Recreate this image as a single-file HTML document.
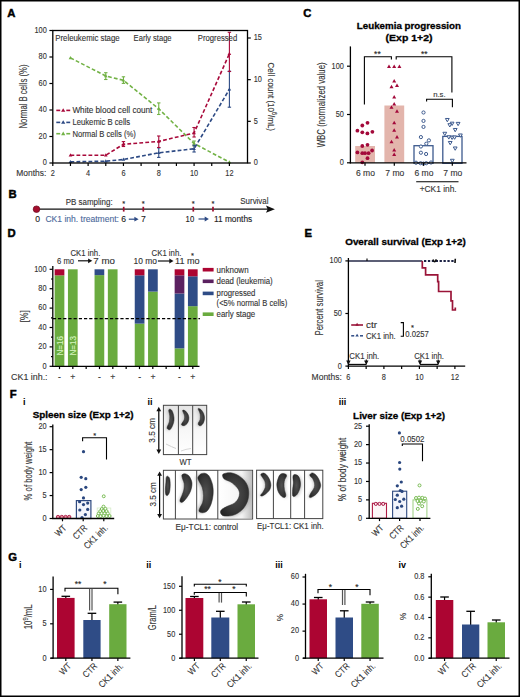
<!DOCTYPE html>
<html><head><meta charset="utf-8"><style>
html,body{margin:0;padding:0;background:#fff;}
body{width:520px;height:697px;overflow:hidden;}
svg{display:block;font-family:"Liberation Sans",sans-serif;}
text{stroke-width:0.12px;}
text[font-weight="bold"]{stroke-width:0.3px;}
</style></head><body>
<svg width="520" height="697" viewBox="0 0 520 697">
<rect width="520" height="697" fill="#fff"/>
<rect x="0.75" y="0.75" width="518.5" height="695.5" fill="none" stroke="#000" stroke-width="1.5"/>
<text x="7.2" y="16.9" font-size="11.3" fill="#000" stroke="#000" style="stroke-width:0.45px" font-weight="bold">A</text>
<path d="M70.46 57.9 L105.78 76 L123.44 80.3 L158.76 108.8 L194.08 143.5 L229.4 162.2" stroke="#72b245" stroke-width="1.6" fill="none" stroke-dasharray="3.8 2.2"/>
<line x1="105.78" y1="72.7" x2="105.78" y2="79.5" stroke="#72b245" stroke-width="1.1"/>
<line x1="104.08" y1="72.7" x2="107.48" y2="72.7" stroke="#72b245" stroke-width="1.1"/>
<line x1="104.08" y1="79.5" x2="107.48" y2="79.5" stroke="#72b245" stroke-width="1.1"/>
<line x1="123.44" y1="76.8" x2="123.44" y2="83.4" stroke="#72b245" stroke-width="1.1"/>
<line x1="121.74" y1="76.8" x2="125.14" y2="76.8" stroke="#72b245" stroke-width="1.1"/>
<line x1="121.74" y1="83.4" x2="125.14" y2="83.4" stroke="#72b245" stroke-width="1.1"/>
<line x1="158.76" y1="102.9" x2="158.76" y2="114.5" stroke="#72b245" stroke-width="1.1"/>
<line x1="157.06" y1="102.9" x2="160.46" y2="102.9" stroke="#72b245" stroke-width="1.1"/>
<line x1="157.06" y1="114.5" x2="160.46" y2="114.5" stroke="#72b245" stroke-width="1.1"/>
<line x1="194.08" y1="141" x2="194.08" y2="146" stroke="#72b245" stroke-width="1.1"/>
<line x1="192.38" y1="141" x2="195.78" y2="141" stroke="#72b245" stroke-width="1.1"/>
<line x1="192.38" y1="146" x2="195.78" y2="146" stroke="#72b245" stroke-width="1.1"/>
<polygon points="70.46,56.02 72.26,59.15 68.66,59.15" fill="#72b245" stroke="none" stroke-width="0"/>
<polygon points="105.78,74.12 107.58,77.25 103.98,77.25" fill="#72b245" stroke="none" stroke-width="0"/>
<polygon points="123.44,78.42 125.24,81.55 121.64,81.55" fill="#72b245" stroke="none" stroke-width="0"/>
<polygon points="158.76,106.92 160.56,110.05 156.96,110.05" fill="#72b245" stroke="none" stroke-width="0"/>
<polygon points="194.08,141.62 195.88,144.75 192.28,144.75" fill="#72b245" stroke="none" stroke-width="0"/>
<polygon points="229.4,160.32 231.2,163.45 227.6,163.45" fill="#72b245" stroke="none" stroke-width="0"/>
<path d="M70.46 161.8 L105.78 161.2 L123.44 159.5 L158.76 152.8 L194.08 148.8 L229.4 89.3" stroke="#2d4a84" stroke-width="1.6" fill="none" stroke-dasharray="3.8 2.2"/>
<line x1="158.76" y1="147.8" x2="158.76" y2="157.4" stroke="#2d4a84" stroke-width="1.1"/>
<line x1="157.06" y1="147.8" x2="160.46" y2="147.8" stroke="#2d4a84" stroke-width="1.1"/>
<line x1="157.06" y1="157.4" x2="160.46" y2="157.4" stroke="#2d4a84" stroke-width="1.1"/>
<line x1="194.08" y1="145.3" x2="194.08" y2="152" stroke="#2d4a84" stroke-width="1.1"/>
<line x1="192.38" y1="145.3" x2="195.78" y2="145.3" stroke="#2d4a84" stroke-width="1.1"/>
<line x1="192.38" y1="152" x2="195.78" y2="152" stroke="#2d4a84" stroke-width="1.1"/>
<line x1="229.4" y1="71.2" x2="229.4" y2="107.2" stroke="#2d4a84" stroke-width="1.1"/>
<line x1="227.7" y1="71.2" x2="231.1" y2="71.2" stroke="#2d4a84" stroke-width="1.1"/>
<line x1="227.7" y1="107.2" x2="231.1" y2="107.2" stroke="#2d4a84" stroke-width="1.1"/>
<polygon points="70.46,159.92 72.26,163.05 68.66,163.05" fill="#2d4a84" stroke="none" stroke-width="0"/>
<polygon points="105.78,159.32 107.58,162.45 103.98,162.45" fill="#2d4a84" stroke="none" stroke-width="0"/>
<polygon points="123.44,157.62 125.24,160.75 121.64,160.75" fill="#2d4a84" stroke="none" stroke-width="0"/>
<polygon points="158.76,150.92 160.56,154.05 156.96,154.05" fill="#2d4a84" stroke="none" stroke-width="0"/>
<polygon points="194.08,146.92 195.88,150.05 192.28,150.05" fill="#2d4a84" stroke="none" stroke-width="0"/>
<polygon points="229.4,87.42 231.2,90.55 227.6,90.55" fill="#2d4a84" stroke="none" stroke-width="0"/>
<path d="M70.46 155.2 L105.78 155.2 L123.44 144.3 L158.76 141.4 L194.08 133 L229.4 53.7" stroke="#a8093a" stroke-width="1.6" fill="none" stroke-dasharray="3.8 2.2"/>
<line x1="123.44" y1="141.6" x2="123.44" y2="146.5" stroke="#a8093a" stroke-width="1.1"/>
<line x1="121.74" y1="141.6" x2="125.14" y2="141.6" stroke="#a8093a" stroke-width="1.1"/>
<line x1="121.74" y1="146.5" x2="125.14" y2="146.5" stroke="#a8093a" stroke-width="1.1"/>
<line x1="158.76" y1="136" x2="158.76" y2="147.5" stroke="#a8093a" stroke-width="1.1"/>
<line x1="157.06" y1="136" x2="160.46" y2="136" stroke="#a8093a" stroke-width="1.1"/>
<line x1="157.06" y1="147.5" x2="160.46" y2="147.5" stroke="#a8093a" stroke-width="1.1"/>
<line x1="194.08" y1="127.5" x2="194.08" y2="137" stroke="#a8093a" stroke-width="1.1"/>
<line x1="192.38" y1="127.5" x2="195.78" y2="127.5" stroke="#a8093a" stroke-width="1.1"/>
<line x1="192.38" y1="137" x2="195.78" y2="137" stroke="#a8093a" stroke-width="1.1"/>
<line x1="229.4" y1="32.3" x2="229.4" y2="71.5" stroke="#a8093a" stroke-width="1.1"/>
<line x1="227.7" y1="32.3" x2="231.1" y2="32.3" stroke="#a8093a" stroke-width="1.1"/>
<line x1="227.7" y1="71.5" x2="231.1" y2="71.5" stroke="#a8093a" stroke-width="1.1"/>
<polygon points="70.46,153.32 72.26,156.45 68.66,156.45" fill="#a8093a" stroke="none" stroke-width="0"/>
<polygon points="105.78,153.32 107.58,156.45 103.98,156.45" fill="#a8093a" stroke="none" stroke-width="0"/>
<polygon points="123.44,142.42 125.24,145.55 121.64,145.55" fill="#a8093a" stroke="none" stroke-width="0"/>
<polygon points="158.76,139.52 160.56,142.65 156.96,142.65" fill="#a8093a" stroke="none" stroke-width="0"/>
<polygon points="194.08,131.12 195.88,134.25 192.28,134.25" fill="#a8093a" stroke="none" stroke-width="0"/>
<polygon points="229.4,51.82 231.2,54.95 227.6,54.95" fill="#a8093a" stroke="none" stroke-width="0"/>
<rect x="52.8" y="30.5" width="194.7" height="132.5" fill="none" stroke="#000" stroke-width="1.3"/>
<line x1="49.4" y1="163" x2="52.8" y2="163" stroke="#000" stroke-width="1.2"/>
<text x="46.8" y="165.35" font-size="8.6" text-anchor="end" fill="#333" stroke="#333" textLength="4.1" lengthAdjust="spacingAndGlyphs">0</text>
<line x1="49.4" y1="136.5" x2="52.8" y2="136.5" stroke="#000" stroke-width="1.2"/>
<text x="46.8" y="138.85" font-size="8.6" text-anchor="end" fill="#333" stroke="#333" textLength="8.2" lengthAdjust="spacingAndGlyphs">20</text>
<line x1="49.4" y1="110" x2="52.8" y2="110" stroke="#000" stroke-width="1.2"/>
<text x="46.8" y="112.35" font-size="8.6" text-anchor="end" fill="#333" stroke="#333" textLength="8.2" lengthAdjust="spacingAndGlyphs">40</text>
<line x1="49.4" y1="83.5" x2="52.8" y2="83.5" stroke="#000" stroke-width="1.2"/>
<text x="46.8" y="85.85" font-size="8.6" text-anchor="end" fill="#333" stroke="#333" textLength="8.2" lengthAdjust="spacingAndGlyphs">60</text>
<line x1="49.4" y1="57" x2="52.8" y2="57" stroke="#000" stroke-width="1.2"/>
<text x="46.8" y="59.35" font-size="8.6" text-anchor="end" fill="#333" stroke="#333" textLength="8.2" lengthAdjust="spacingAndGlyphs">80</text>
<line x1="49.4" y1="30.5" x2="52.8" y2="30.5" stroke="#000" stroke-width="1.2"/>
<text x="46.8" y="32.85" font-size="8.6" text-anchor="end" fill="#333" stroke="#333" textLength="12.3" lengthAdjust="spacingAndGlyphs">100</text>
<line x1="247.5" y1="163" x2="250.8" y2="163" stroke="#000" stroke-width="1.2"/>
<text x="253.7" y="165.35" font-size="8.6" text-anchor="start" fill="#333" stroke="#333" textLength="4.1" lengthAdjust="spacingAndGlyphs">0</text>
<line x1="247.5" y1="121.33" x2="250.8" y2="121.33" stroke="#000" stroke-width="1.2"/>
<text x="253.7" y="123.68" font-size="8.6" text-anchor="start" fill="#333" stroke="#333" textLength="4.1" lengthAdjust="spacingAndGlyphs">5</text>
<line x1="247.5" y1="79.67" x2="250.8" y2="79.67" stroke="#000" stroke-width="1.2"/>
<text x="253.7" y="82.02" font-size="8.6" text-anchor="start" fill="#333" stroke="#333" textLength="8.2" lengthAdjust="spacingAndGlyphs">10</text>
<line x1="247.5" y1="38" x2="250.8" y2="38" stroke="#000" stroke-width="1.2"/>
<text x="253.7" y="40.35" font-size="8.6" text-anchor="start" fill="#333" stroke="#333" textLength="8.2" lengthAdjust="spacingAndGlyphs">15</text>
<line x1="52.8" y1="163" x2="52.8" y2="166" stroke="#000" stroke-width="1.2"/>
<text x="52.8" y="176.35" font-size="8.6" text-anchor="middle" fill="#333" stroke="#333" textLength="4.1" lengthAdjust="spacingAndGlyphs">2</text>
<line x1="70.46" y1="163" x2="70.46" y2="166" stroke="#000" stroke-width="1.2"/>
<line x1="88.12" y1="163" x2="88.12" y2="166" stroke="#000" stroke-width="1.2"/>
<text x="88.12" y="176.35" font-size="8.6" text-anchor="middle" fill="#333" stroke="#333" textLength="4.1" lengthAdjust="spacingAndGlyphs">4</text>
<line x1="105.78" y1="163" x2="105.78" y2="166" stroke="#000" stroke-width="1.2"/>
<line x1="123.44" y1="163" x2="123.44" y2="166" stroke="#000" stroke-width="1.2"/>
<text x="123.44" y="176.35" font-size="8.6" text-anchor="middle" fill="#333" stroke="#333" textLength="4.1" lengthAdjust="spacingAndGlyphs">6</text>
<line x1="141.1" y1="163" x2="141.1" y2="166" stroke="#000" stroke-width="1.2"/>
<line x1="158.76" y1="163" x2="158.76" y2="166" stroke="#000" stroke-width="1.2"/>
<text x="158.76" y="176.35" font-size="8.6" text-anchor="middle" fill="#333" stroke="#333" textLength="4.1" lengthAdjust="spacingAndGlyphs">8</text>
<line x1="176.42" y1="163" x2="176.42" y2="166" stroke="#000" stroke-width="1.2"/>
<line x1="194.08" y1="163" x2="194.08" y2="166" stroke="#000" stroke-width="1.2"/>
<text x="194.08" y="176.35" font-size="8.6" text-anchor="middle" fill="#333" stroke="#333" textLength="8.2" lengthAdjust="spacingAndGlyphs">10</text>
<line x1="211.74" y1="163" x2="211.74" y2="166" stroke="#000" stroke-width="1.2"/>
<line x1="229.4" y1="163" x2="229.4" y2="166" stroke="#000" stroke-width="1.2"/>
<text x="229.4" y="176.35" font-size="8.6" text-anchor="middle" fill="#333" stroke="#333" textLength="8.2" lengthAdjust="spacingAndGlyphs">12</text>
<text x="46.3" y="175.6" font-size="8.7" text-anchor="end" fill="#333" stroke="#333" textLength="30" lengthAdjust="spacingAndGlyphs">Months:</text>
<text transform="translate(23.4 96.5) rotate(-90)" x="0" y="3.82" font-size="10.6" text-anchor="middle" fill="#333" stroke="#333" textLength="64" lengthAdjust="spacingAndGlyphs">Normal B cells (%)</text>
<text transform="translate(271.8 96.8) rotate(90)" x="0" y="3.5" font-size="9.8" text-anchor="middle" fill="#333" stroke="#333" textLength="68.5" lengthAdjust="spacingAndGlyphs">Cell count (10<tspan font-size="6.5" dy="-3.5">6</tspan><tspan dy="3.5">/mL)</tspan></text>
<text x="55.2" y="41.3" font-size="8.2" text-anchor="start" fill="#333" stroke="#333" textLength="64.5" lengthAdjust="spacingAndGlyphs">Preleukemic stage</text>
<text x="133.6" y="41.3" font-size="8.2" text-anchor="start" fill="#333" stroke="#333" textLength="38" lengthAdjust="spacingAndGlyphs">Early stage</text>
<text x="197.8" y="41.3" font-size="8.2" text-anchor="start" fill="#333" stroke="#333" textLength="39.4" lengthAdjust="spacingAndGlyphs">Progressed</text>
<line x1="56.3" y1="110.4" x2="60.2" y2="110.4" stroke="#a8093a" stroke-width="1.6"/>
<line x1="66.3" y1="110.4" x2="70.2" y2="110.4" stroke="#a8093a" stroke-width="1.6"/>
<polygon points="63.2,108.21 65.3,111.86 61.1,111.86" fill="#a8093a" stroke="none" stroke-width="0"/>
<text x="72.4" y="113.3" font-size="8.3" text-anchor="start" fill="#333" stroke="#333" textLength="80" lengthAdjust="spacingAndGlyphs">White blood cell count</text>
<line x1="56.3" y1="122.4" x2="60.2" y2="122.4" stroke="#2d4a84" stroke-width="1.6"/>
<line x1="66.3" y1="122.4" x2="70.2" y2="122.4" stroke="#2d4a84" stroke-width="1.6"/>
<polygon points="63.2,120.21 65.3,123.86 61.1,123.86" fill="#2d4a84" stroke="none" stroke-width="0"/>
<text x="72.4" y="125.3" font-size="8.3" text-anchor="start" fill="#333" stroke="#333" textLength="57.8" lengthAdjust="spacingAndGlyphs">Leukemic B cells</text>
<line x1="56.3" y1="133.7" x2="60.2" y2="133.7" stroke="#72b245" stroke-width="1.6"/>
<line x1="66.3" y1="133.7" x2="70.2" y2="133.7" stroke="#72b245" stroke-width="1.6"/>
<polygon points="63.2,131.51 65.3,135.16 61.1,135.16" fill="#72b245" stroke="none" stroke-width="0"/>
<text x="72.4" y="136.6" font-size="8.3" text-anchor="start" fill="#333" stroke="#333" textLength="63.5" lengthAdjust="spacingAndGlyphs">Normal B cells (%)</text>
<text x="8.4" y="198.1" font-size="11.3" fill="#000" stroke="#000" style="stroke-width:0.45px" font-weight="bold">B</text>
<line x1="39" y1="209.2" x2="268" y2="209.2" stroke="#111" stroke-width="1.2"/>
<polygon points="266,205.6 274.9,209.2 266,212.8 267.6,209.2" fill="#111"/>
<circle cx="36.5" cy="209.2" r="3.3" fill="#a50d2d" stroke="#6a0a1e" stroke-width="0.7"/>
<line x1="123.7" y1="206.8" x2="123.7" y2="211.6" stroke="#a01030" stroke-width="1.7"/>
<text x="123.7" y="206.4" font-size="7.5" text-anchor="middle" fill="#222" stroke="#222">*</text>
<line x1="143.3" y1="206.8" x2="143.3" y2="211.6" stroke="#a01030" stroke-width="1.7"/>
<text x="143.3" y="206.4" font-size="7.5" text-anchor="middle" fill="#222" stroke="#222">*</text>
<line x1="193.3" y1="206.8" x2="193.3" y2="211.6" stroke="#a01030" stroke-width="1.7"/>
<text x="193.3" y="206.4" font-size="7.5" text-anchor="middle" fill="#222" stroke="#222">*</text>
<line x1="213" y1="206.8" x2="213" y2="211.6" stroke="#a01030" stroke-width="1.7"/>
<text x="213" y="206.4" font-size="7.5" text-anchor="middle" fill="#222" stroke="#222">*</text>
<text x="65.7" y="204.6" font-size="8.3" text-anchor="start" fill="#333" stroke="#333" textLength="47" lengthAdjust="spacingAndGlyphs">PB sampling:</text>
<text x="240.3" y="204" font-size="8.3" text-anchor="start" fill="#333" stroke="#333" textLength="28.2" lengthAdjust="spacingAndGlyphs">Survival</text>
<text x="37.6" y="222.3" font-size="8.6" text-anchor="middle" fill="#222" stroke="#222">0</text>
<text x="45.4" y="222.3" font-size="8.3" text-anchor="start" fill="#4c6a9c" stroke="#4c6a9c" textLength="73.6" lengthAdjust="spacingAndGlyphs">CK1 inh. treatment:</text>
<text x="123.6" y="222.3" font-size="8.6" text-anchor="middle" fill="#222" stroke="#222">6</text>
<text x="143.4" y="222.3" font-size="8.6" text-anchor="middle" fill="#222" stroke="#222">7</text>
<text x="185.6" y="222.1" font-size="8.6" text-anchor="start" fill="#222" stroke="#222" textLength="8.6" lengthAdjust="spacingAndGlyphs">10</text>
<text x="214" y="222.1" font-size="8.3" text-anchor="start" fill="#222" stroke="#222" textLength="38.2" lengthAdjust="spacingAndGlyphs">11 months</text>
<line x1="128.8" y1="219.2" x2="135.6" y2="219.2" stroke="#2d4a84" stroke-width="1.2"/>
<polygon points="134.4,216.8 138.6,219.2 134.4,221.6" fill="#2d4a84"/>
<line x1="198.5" y1="219" x2="205.9" y2="219" stroke="#2d4a84" stroke-width="1.2"/>
<polygon points="204.7,216.6 208.9,219 204.7,221.4" fill="#2d4a84"/>
<text x="303.2" y="16.7" font-size="11.3" fill="#000" stroke="#000" style="stroke-width:0.45px" font-weight="bold">C</text>
<text x="408.9" y="29.4" font-size="9.7" text-anchor="middle" fill="#000" stroke="#000" font-weight="bold" textLength="104.2" lengthAdjust="spacingAndGlyphs">Leukemia progression</text>
<text x="409.1" y="41.2" font-size="9.7" text-anchor="middle" fill="#000" stroke="#000" font-weight="bold" textLength="47" lengthAdjust="spacingAndGlyphs">(Exp 1+2)</text>
<rect x="355.2" y="146" width="19.8" height="16.8" fill="#e3b5ac" stroke="none" stroke-width="0"/>
<rect x="384.4" y="105.5" width="19.8" height="57.3" fill="#e3b5ac" stroke="none" stroke-width="0"/>
<rect x="414" y="145.7" width="19" height="17.6" fill="none" stroke="#3d5a8e" stroke-width="1.3"/>
<rect x="442.8" y="136.4" width="19.2" height="26.9" fill="none" stroke="#3d5a8e" stroke-width="1.3"/>
<circle cx="367.5" cy="122.8" r="1.9" fill="#a3093a" stroke="none" stroke-width="0"/>
<circle cx="362.3" cy="125.5" r="1.9" fill="#a3093a" stroke="none" stroke-width="0"/>
<circle cx="357.4" cy="130.7" r="1.9" fill="#a3093a" stroke="none" stroke-width="0"/>
<circle cx="362.3" cy="132.3" r="1.9" fill="#a3093a" stroke="none" stroke-width="0"/>
<circle cx="367.4" cy="133.4" r="1.9" fill="#a3093a" stroke="none" stroke-width="0"/>
<circle cx="372.4" cy="131.8" r="1.9" fill="#a3093a" stroke="none" stroke-width="0"/>
<circle cx="362.3" cy="146" r="1.9" fill="#a3093a" stroke="none" stroke-width="0"/>
<circle cx="367.5" cy="144.8" r="1.9" fill="#a3093a" stroke="none" stroke-width="0"/>
<circle cx="372.1" cy="150.5" r="1.9" fill="#a3093a" stroke="none" stroke-width="0"/>
<circle cx="357.4" cy="152.4" r="1.9" fill="#a3093a" stroke="none" stroke-width="0"/>
<circle cx="362.3" cy="153.2" r="1.9" fill="#a3093a" stroke="none" stroke-width="0"/>
<circle cx="365" cy="153.2" r="1.9" fill="#a3093a" stroke="none" stroke-width="0"/>
<circle cx="368.6" cy="153.2" r="1.9" fill="#a3093a" stroke="none" stroke-width="0"/>
<circle cx="367.5" cy="158.2" r="1.9" fill="#a3093a" stroke="none" stroke-width="0"/>
<circle cx="362.3" cy="162.3" r="1.9" fill="#a3093a" stroke="none" stroke-width="0"/>
<polygon points="389,64.51 391,67.99 387,67.99" fill="#a3093a" stroke="none" stroke-width="0"/>
<polygon points="394.2,64.51 396.2,67.99 392.2,67.99" fill="#a3093a" stroke="none" stroke-width="0"/>
<polygon points="399.4,64.51 401.4,67.99 397.4,67.99" fill="#a3093a" stroke="none" stroke-width="0"/>
<polygon points="394.2,78.91 396.2,82.39 392.2,82.39" fill="#a3093a" stroke="none" stroke-width="0"/>
<polygon points="391.5,84.71 393.5,88.19 389.5,88.19" fill="#a3093a" stroke="none" stroke-width="0"/>
<polygon points="397,83.51 399,86.99 395,86.99" fill="#a3093a" stroke="none" stroke-width="0"/>
<polygon points="394.2,95.01 396.2,98.49 392.2,98.49" fill="#a3093a" stroke="none" stroke-width="0"/>
<polygon points="394.2,102.11 396.2,105.59 392.2,105.59" fill="#a3093a" stroke="none" stroke-width="0"/>
<polygon points="391.5,105.31 393.5,108.79 389.5,108.79" fill="#a3093a" stroke="none" stroke-width="0"/>
<polygon points="397,109.21 399,112.69 395,112.69" fill="#a3093a" stroke="none" stroke-width="0"/>
<polygon points="394.2,120.71 396.2,124.19 392.2,124.19" fill="#a3093a" stroke="none" stroke-width="0"/>
<polygon points="394.2,128.21 396.2,131.69 392.2,131.69" fill="#a3093a" stroke="none" stroke-width="0"/>
<polygon points="397,134.91 399,138.39 395,138.39" fill="#a3093a" stroke="none" stroke-width="0"/>
<polygon points="391.5,139.71 393.5,143.19 389.5,143.19" fill="#a3093a" stroke="none" stroke-width="0"/>
<polygon points="394.2,147.91 396.2,151.39 392.2,151.39" fill="#a3093a" stroke="none" stroke-width="0"/>
<polygon points="394.2,152.61 396.2,156.09 392.2,156.09" fill="#a3093a" stroke="none" stroke-width="0"/>
<circle cx="423.5" cy="112.5" r="1.6" fill="white" stroke="#3d5a8e" stroke-width="1"/>
<circle cx="423.5" cy="120.9" r="1.6" fill="white" stroke="#3d5a8e" stroke-width="1"/>
<circle cx="423.5" cy="126.9" r="1.6" fill="white" stroke="#3d5a8e" stroke-width="1"/>
<circle cx="420.9" cy="137.1" r="1.6" fill="white" stroke="#3d5a8e" stroke-width="1"/>
<circle cx="428.9" cy="140.4" r="1.6" fill="white" stroke="#3d5a8e" stroke-width="1"/>
<circle cx="426.3" cy="143.7" r="1.6" fill="white" stroke="#3d5a8e" stroke-width="1"/>
<circle cx="420.9" cy="146.5" r="1.6" fill="white" stroke="#3d5a8e" stroke-width="1"/>
<circle cx="420.9" cy="152.7" r="1.6" fill="white" stroke="#3d5a8e" stroke-width="1"/>
<circle cx="426.1" cy="154" r="1.6" fill="white" stroke="#3d5a8e" stroke-width="1"/>
<circle cx="416" cy="162.7" r="1.6" fill="white" stroke="#3d5a8e" stroke-width="1"/>
<circle cx="420.6" cy="163.2" r="1.6" fill="white" stroke="#3d5a8e" stroke-width="1"/>
<circle cx="423.5" cy="163.6" r="1.6" fill="white" stroke="#3d5a8e" stroke-width="1"/>
<circle cx="426.3" cy="163.2" r="1.6" fill="white" stroke="#3d5a8e" stroke-width="1"/>
<circle cx="431" cy="162.5" r="1.6" fill="white" stroke="#3d5a8e" stroke-width="1"/>
<polygon points="447.3,121.78 449.2,118.48 445.4,118.48" fill="white" stroke="#3d5a8e" stroke-width="1"/>
<polygon points="452.1,125.48 454,122.18 450.2,122.18" fill="white" stroke="#3d5a8e" stroke-width="1"/>
<polygon points="449.8,126.98 451.7,123.68 447.9,123.68" fill="white" stroke="#3d5a8e" stroke-width="1"/>
<polygon points="458.1,125.68 460,122.38 456.2,122.38" fill="white" stroke="#3d5a8e" stroke-width="1"/>
<polygon points="455.2,131.78 457.1,128.48 453.3,128.48" fill="white" stroke="#3d5a8e" stroke-width="1"/>
<polygon points="444.8,135.58 446.7,132.28 442.9,132.28" fill="white" stroke="#3d5a8e" stroke-width="1"/>
<polygon points="448.8,139.08 450.7,135.78 446.9,135.78" fill="white" stroke="#3d5a8e" stroke-width="1"/>
<polygon points="452.1,139.48 454,136.18 450.2,136.18" fill="white" stroke="#3d5a8e" stroke-width="1"/>
<polygon points="454.6,139.28 456.5,135.98 452.7,135.98" fill="white" stroke="#3d5a8e" stroke-width="1"/>
<polygon points="460.4,137.28 462.3,133.98 458.5,133.98" fill="white" stroke="#3d5a8e" stroke-width="1"/>
<polygon points="450.2,144.78 452.1,141.48 448.3,141.48" fill="white" stroke="#3d5a8e" stroke-width="1"/>
<polygon points="455.2,150.28 457.1,146.98 453.3,146.98" fill="white" stroke="#3d5a8e" stroke-width="1"/>
<polygon points="452.3,162.58 454.2,159.28 450.4,159.28" fill="white" stroke="#3d5a8e" stroke-width="1"/>
<line x1="350.4" y1="46.4" x2="350.4" y2="163.4" stroke="#000" stroke-width="1.3"/>
<line x1="349.8" y1="162.8" x2="466.5" y2="162.8" stroke="#000" stroke-width="1.3"/>
<line x1="347" y1="162.8" x2="350.4" y2="162.8" stroke="#000" stroke-width="1.2"/>
<text x="343.9" y="165.15" font-size="8.6" text-anchor="end" fill="#333" stroke="#333" textLength="4.1" lengthAdjust="spacingAndGlyphs">0</text>
<line x1="347" y1="114.5" x2="350.4" y2="114.5" stroke="#000" stroke-width="1.2"/>
<text x="343.9" y="116.85" font-size="8.6" text-anchor="end" fill="#333" stroke="#333" textLength="8.2" lengthAdjust="spacingAndGlyphs">50</text>
<line x1="347" y1="66.2" x2="350.4" y2="66.2" stroke="#000" stroke-width="1.2"/>
<text x="343.9" y="68.55" font-size="8.6" text-anchor="end" fill="#333" stroke="#333" textLength="12.3" lengthAdjust="spacingAndGlyphs">100</text>
<line x1="365" y1="162.8" x2="365" y2="165.8" stroke="#000" stroke-width="1.2"/>
<line x1="394.3" y1="162.8" x2="394.3" y2="165.8" stroke="#000" stroke-width="1.2"/>
<line x1="423.5" y1="162.8" x2="423.5" y2="165.8" stroke="#000" stroke-width="1.2"/>
<line x1="452.3" y1="162.8" x2="452.3" y2="165.8" stroke="#000" stroke-width="1.2"/>
<text x="365.5" y="176.3" font-size="8.5" text-anchor="middle" fill="#333" stroke="#333" textLength="19" lengthAdjust="spacingAndGlyphs">6 mo</text>
<text x="394.8" y="176.3" font-size="8.5" text-anchor="middle" fill="#333" stroke="#333" textLength="19" lengthAdjust="spacingAndGlyphs">7 mo</text>
<text x="424" y="176.3" font-size="8.5" text-anchor="middle" fill="#333" stroke="#333" textLength="19" lengthAdjust="spacingAndGlyphs">6 mo</text>
<text x="452.8" y="176.3" font-size="8.5" text-anchor="middle" fill="#333" stroke="#333" textLength="19" lengthAdjust="spacingAndGlyphs">7 mo</text>
<line x1="416.2" y1="181.8" x2="458.5" y2="181.8" stroke="#000" stroke-width="1.1"/>
<text x="438.2" y="192" font-size="8.5" text-anchor="middle" fill="#333" stroke="#333" textLength="37" lengthAdjust="spacingAndGlyphs">+CK1 inh.</text>
<text transform="translate(321.2 104.8) rotate(-90)" x="0" y="3.82" font-size="10.6" text-anchor="middle" fill="#333" stroke="#333" textLength="85" lengthAdjust="spacingAndGlyphs">WBC (normalized value)</text>
<path d="M364.4 104.6 V56.7 H391.4 V59.6" stroke="#000" stroke-width="1.1" fill="none"/>
<path d="M396.2 59.6 V56.7 H451.9 V92.5" stroke="#000" stroke-width="1.1" fill="none"/>
<path d="M426.6 101.5 V99.3 H452.4 V107.3" stroke="#000" stroke-width="1.1" fill="none"/>
<text x="377.4" y="56.8" font-size="8.5" text-anchor="middle" fill="#222" stroke="#222">**</text>
<text x="424.2" y="56.8" font-size="8.5" text-anchor="middle" fill="#222" stroke="#222">**</text>
<text x="439.4" y="97.4" font-size="8" text-anchor="middle" fill="#333" stroke="#333" textLength="12.5" lengthAdjust="spacingAndGlyphs">n.s.</text>
<text x="7.6" y="237.2" font-size="11.3" fill="#000" stroke="#000" style="stroke-width:0.45px" font-weight="bold">D</text>
<rect x="54.65" y="275.36" width="9.7" height="90.94" fill="#6aab3f" stroke="none" stroke-width="0"/>
<rect x="54.65" y="269.3" width="9.7" height="6.06" fill="#ac0532" stroke="none" stroke-width="0"/>
<rect x="67.95" y="269.3" width="9.7" height="97" fill="#6aab3f" stroke="none" stroke-width="0"/>
<rect x="94.55" y="275.12" width="9.7" height="91.18" fill="#6aab3f" stroke="none" stroke-width="0"/>
<rect x="94.55" y="269.3" width="9.7" height="5.82" fill="#2f4c86" stroke="none" stroke-width="0"/>
<rect x="107.85" y="269.3" width="9.7" height="97" fill="#6aab3f" stroke="none" stroke-width="0"/>
<rect x="134.75" y="323.62" width="9.7" height="42.68" fill="#6aab3f" stroke="none" stroke-width="0"/>
<rect x="134.75" y="275.31" width="9.7" height="48.31" fill="#2f4c86" stroke="none" stroke-width="0"/>
<rect x="134.75" y="269.3" width="9.7" height="6.01" fill="#ac0532" stroke="none" stroke-width="0"/>
<rect x="148.05" y="291.61" width="9.7" height="74.69" fill="#6aab3f" stroke="none" stroke-width="0"/>
<rect x="148.05" y="269.3" width="9.7" height="22.31" fill="#2f4c86" stroke="none" stroke-width="0"/>
<rect x="174.65" y="348.36" width="9.7" height="17.94" fill="#6aab3f" stroke="none" stroke-width="0"/>
<rect x="174.65" y="293.55" width="9.7" height="54.81" fill="#2f4c86" stroke="none" stroke-width="0"/>
<rect x="174.65" y="275.31" width="9.7" height="18.24" fill="#5b2160" stroke="none" stroke-width="0"/>
<rect x="174.65" y="269.3" width="9.7" height="6.01" fill="#ac0532" stroke="none" stroke-width="0"/>
<rect x="187.95" y="306.16" width="9.7" height="60.14" fill="#6aab3f" stroke="none" stroke-width="0"/>
<rect x="187.95" y="276.28" width="9.7" height="29.88" fill="#2f4c86" stroke="none" stroke-width="0"/>
<rect x="187.95" y="269.3" width="9.7" height="6.98" fill="#ac0532" stroke="none" stroke-width="0"/>
<text transform="translate(59.6 345.8) rotate(-90)" x="0" y="3.1" font-size="8.6" text-anchor="middle" fill="#d8f5c0" stroke="#d8f5c0" textLength="19.5" lengthAdjust="spacingAndGlyphs">N=16</text>
<text transform="translate(72.6 345.8) rotate(-90)" x="0" y="3.1" font-size="8.6" text-anchor="middle" fill="#d8f5c0" stroke="#d8f5c0" textLength="19.5" lengthAdjust="spacingAndGlyphs">N=13</text>
<line x1="52.8" y1="318.6" x2="200" y2="318.6" stroke="#000" stroke-width="1.2" stroke-dasharray="3.2 2"/>
<line x1="52.8" y1="266" x2="52.8" y2="366.9" stroke="#000" stroke-width="1.3"/>
<line x1="52.2" y1="366.3" x2="199.5" y2="366.3" stroke="#000" stroke-width="1.3"/>
<line x1="49.6" y1="366.3" x2="52.8" y2="366.3" stroke="#000" stroke-width="1.2"/>
<text x="46.5" y="368.65" font-size="8.6" text-anchor="end" fill="#333" stroke="#333" textLength="4.1" lengthAdjust="spacingAndGlyphs">0</text>
<line x1="51" y1="356.6" x2="52.8" y2="356.6" stroke="#000" stroke-width="1.2"/>
<line x1="49.6" y1="346.9" x2="52.8" y2="346.9" stroke="#000" stroke-width="1.2"/>
<text x="46.5" y="349.25" font-size="8.6" text-anchor="end" fill="#333" stroke="#333" textLength="8.2" lengthAdjust="spacingAndGlyphs">20</text>
<line x1="51" y1="337.2" x2="52.8" y2="337.2" stroke="#000" stroke-width="1.2"/>
<line x1="49.6" y1="327.5" x2="52.8" y2="327.5" stroke="#000" stroke-width="1.2"/>
<text x="46.5" y="329.85" font-size="8.6" text-anchor="end" fill="#333" stroke="#333" textLength="8.2" lengthAdjust="spacingAndGlyphs">40</text>
<line x1="51" y1="317.8" x2="52.8" y2="317.8" stroke="#000" stroke-width="1.2"/>
<line x1="49.6" y1="308.1" x2="52.8" y2="308.1" stroke="#000" stroke-width="1.2"/>
<text x="46.5" y="310.45" font-size="8.6" text-anchor="end" fill="#333" stroke="#333" textLength="8.2" lengthAdjust="spacingAndGlyphs">60</text>
<line x1="51" y1="298.4" x2="52.8" y2="298.4" stroke="#000" stroke-width="1.2"/>
<line x1="49.6" y1="288.7" x2="52.8" y2="288.7" stroke="#000" stroke-width="1.2"/>
<text x="46.5" y="291.05" font-size="8.6" text-anchor="end" fill="#333" stroke="#333" textLength="8.2" lengthAdjust="spacingAndGlyphs">80</text>
<line x1="51" y1="279" x2="52.8" y2="279" stroke="#000" stroke-width="1.2"/>
<line x1="49.6" y1="269.3" x2="52.8" y2="269.3" stroke="#000" stroke-width="1.2"/>
<text x="46.5" y="271.65" font-size="8.6" text-anchor="end" fill="#333" stroke="#333" textLength="12.3" lengthAdjust="spacingAndGlyphs">100</text>
<line x1="59.5" y1="366.3" x2="59.5" y2="369.1" stroke="#000" stroke-width="1.2"/>
<line x1="72.83" y1="366.3" x2="72.83" y2="369.1" stroke="#000" stroke-width="1.2"/>
<line x1="86.16" y1="366.3" x2="86.16" y2="369.1" stroke="#000" stroke-width="1.2"/>
<line x1="99.49" y1="366.3" x2="99.49" y2="369.1" stroke="#000" stroke-width="1.2"/>
<line x1="112.82" y1="366.3" x2="112.82" y2="369.1" stroke="#000" stroke-width="1.2"/>
<line x1="126.15" y1="366.3" x2="126.15" y2="369.1" stroke="#000" stroke-width="1.2"/>
<line x1="139.48" y1="366.3" x2="139.48" y2="369.1" stroke="#000" stroke-width="1.2"/>
<line x1="152.81" y1="366.3" x2="152.81" y2="369.1" stroke="#000" stroke-width="1.2"/>
<line x1="166.14" y1="366.3" x2="166.14" y2="369.1" stroke="#000" stroke-width="1.2"/>
<line x1="179.47" y1="366.3" x2="179.47" y2="369.1" stroke="#000" stroke-width="1.2"/>
<line x1="192.8" y1="366.3" x2="192.8" y2="369.1" stroke="#000" stroke-width="1.2"/>
<text transform="translate(24.6 316.2) rotate(-90)" x="0" y="3.82" font-size="10.6" text-anchor="middle" fill="#333" stroke="#333" textLength="12" lengthAdjust="spacingAndGlyphs">[%]</text>
<text x="47.6" y="380" font-size="8.5" text-anchor="end" fill="#333" stroke="#333" textLength="36.5" lengthAdjust="spacingAndGlyphs">CK1 inh.:</text>
<text x="59.5" y="379.8" font-size="8.6" text-anchor="middle" fill="#333" stroke="#333">-</text>
<text x="72.8" y="379.8" font-size="8.6" text-anchor="middle" fill="#333" stroke="#333">+</text>
<text x="99.4" y="379.8" font-size="8.6" text-anchor="middle" fill="#333" stroke="#333">-</text>
<text x="112.7" y="379.8" font-size="8.6" text-anchor="middle" fill="#333" stroke="#333">+</text>
<text x="139.6" y="379.8" font-size="8.6" text-anchor="middle" fill="#333" stroke="#333">-</text>
<text x="152.9" y="379.8" font-size="8.6" text-anchor="middle" fill="#333" stroke="#333">+</text>
<text x="179.5" y="379.8" font-size="8.6" text-anchor="middle" fill="#333" stroke="#333">-</text>
<text x="192.8" y="379.8" font-size="8.6" text-anchor="middle" fill="#333" stroke="#333">+</text>
<text x="85.4" y="256" font-size="8.4" text-anchor="middle" fill="#333" stroke="#333" textLength="29.8" lengthAdjust="spacingAndGlyphs">CK1 inh.</text>
<text x="57" y="264.1" font-size="8.4" text-anchor="start" fill="#333" stroke="#333" textLength="17" lengthAdjust="spacingAndGlyphs">6 mo</text>
<text x="93.3" y="264.1" font-size="8.4" text-anchor="start" fill="#333" stroke="#333" textLength="21.6" lengthAdjust="spacingAndGlyphs">7 mo</text>
<text x="166.5" y="255.8" font-size="8.4" text-anchor="middle" fill="#333" stroke="#333" textLength="29.8" lengthAdjust="spacingAndGlyphs">CK1 inh.</text>
<text x="133.5" y="264.3" font-size="8.4" text-anchor="start" fill="#333" stroke="#333" textLength="23.4" lengthAdjust="spacingAndGlyphs">10 mo</text>
<text x="175" y="264.3" font-size="8.4" text-anchor="start" fill="#333" stroke="#333" textLength="24.6" lengthAdjust="spacingAndGlyphs">11 mo</text>
<text x="192.5" y="258.4" font-size="7.5" text-anchor="middle" fill="#222" stroke="#222">*</text>
<line x1="78" y1="260.8" x2="89.3" y2="260.8" stroke="#111" stroke-width="1.2"/>
<polygon points="88.1,258.4 92.3,260.8 88.1,263.2" fill="#111"/>
<line x1="157.9" y1="261" x2="170.5" y2="261" stroke="#111" stroke-width="1.2"/>
<polygon points="169.3,258.6 173.5,261 169.3,263.4" fill="#111"/>
<rect x="202.7" y="267.9" width="10.9" height="3.6" fill="#ac0532" stroke="none" stroke-width="0"/>
<text x="216.6" y="272.5" font-size="8.3" text-anchor="start" fill="#333" stroke="#333" textLength="32" lengthAdjust="spacingAndGlyphs">unknown</text>
<rect x="202.7" y="279.5" width="10.9" height="3.6" fill="#5b2160" stroke="none" stroke-width="0"/>
<text x="216.6" y="284.1" font-size="8.3" text-anchor="start" fill="#333" stroke="#333" textLength="56" lengthAdjust="spacingAndGlyphs">dead (leukemia)</text>
<rect x="202.7" y="291.6" width="10.9" height="3.6" fill="#2f4c86" stroke="none" stroke-width="0"/>
<text x="216.6" y="296.2" font-size="8.3" text-anchor="start" fill="#333" stroke="#333" textLength="38.8" lengthAdjust="spacingAndGlyphs">progressed</text>
<rect x="202.7" y="312.4" width="10.9" height="3.6" fill="#6aab3f" stroke="none" stroke-width="0"/>
<text x="216.6" y="317" font-size="8.3" text-anchor="start" fill="#333" stroke="#333" textLength="38.6" lengthAdjust="spacingAndGlyphs">early stage</text>
<text x="216.6" y="305.7" font-size="8.3" text-anchor="start" fill="#333" stroke="#333" textLength="70.6" lengthAdjust="spacingAndGlyphs">(&lt;5% normal B cells)</text>
<text x="304.6" y="236.8" font-size="11.3" fill="#000" stroke="#000" style="stroke-width:0.45px" font-weight="bold">E</text>
<text x="345.2" y="244.9" font-size="9.7" text-anchor="start" fill="#000" stroke="#000" font-weight="bold" textLength="120.6" lengthAdjust="spacingAndGlyphs">Overall survival (Exp 1+2)</text>
<line x1="348.4" y1="261" x2="422.3" y2="261" stroke="#262a48" stroke-width="1.6"/>
<line x1="424" y1="261" x2="455.3" y2="261" stroke="#1c2245" stroke-width="1.8" stroke-dasharray="2.3 1.6"/>
<path d="M422.3 261 V267.9 H425.6 V274.8 H437.7 V281.7 H438.6 V291.5 H451.0 V300.8 H452.5 V310.0 H455.3 V307.5" stroke="#9a1438" stroke-width="1.7" fill="none"/>
<path d="M433.0 259.4 Q434.6 264.0 436.4 259.4" stroke="#111" stroke-width="1.6" fill="none"/>
<line x1="455.3" y1="258.8" x2="455" y2="263" stroke="#111" stroke-width="1.6"/>
<line x1="348.4" y1="258" x2="348.4" y2="366.7" stroke="#000" stroke-width="1.3"/>
<line x1="347.8" y1="366.1" x2="465.2" y2="366.1" stroke="#000" stroke-width="1.3"/>
<line x1="345.4" y1="366.1" x2="348.4" y2="366.1" stroke="#000" stroke-width="1.2"/>
<text x="341.9" y="368.55" font-size="8.6" text-anchor="end" fill="#333" stroke="#333" textLength="4.1" lengthAdjust="spacingAndGlyphs">0</text>
<line x1="345.4" y1="313.5" x2="348.4" y2="313.5" stroke="#000" stroke-width="1.2"/>
<text x="341.9" y="315.95" font-size="8.6" text-anchor="end" fill="#333" stroke="#333" textLength="8.2" lengthAdjust="spacingAndGlyphs">50</text>
<line x1="345.4" y1="260.9" x2="348.4" y2="260.9" stroke="#000" stroke-width="1.2"/>
<text x="341.9" y="263.35" font-size="8.6" text-anchor="end" fill="#333" stroke="#333" textLength="12.3" lengthAdjust="spacingAndGlyphs">100</text>
<line x1="348.4" y1="366.1" x2="348.4" y2="368.9" stroke="#000" stroke-width="1.2"/>
<text x="348.4" y="380.15" font-size="8.6" text-anchor="middle" fill="#333" stroke="#333" textLength="4.1" lengthAdjust="spacingAndGlyphs">6</text>
<line x1="366.15" y1="366.1" x2="366.15" y2="368.9" stroke="#000" stroke-width="1.2"/>
<line x1="383.9" y1="366.1" x2="383.9" y2="368.9" stroke="#000" stroke-width="1.2"/>
<text x="383.9" y="380.15" font-size="8.6" text-anchor="middle" fill="#333" stroke="#333" textLength="4.1" lengthAdjust="spacingAndGlyphs">8</text>
<line x1="401.65" y1="366.1" x2="401.65" y2="368.9" stroke="#000" stroke-width="1.2"/>
<line x1="419.4" y1="366.1" x2="419.4" y2="368.9" stroke="#000" stroke-width="1.2"/>
<text x="419.4" y="380.15" font-size="8.6" text-anchor="middle" fill="#333" stroke="#333" textLength="8.2" lengthAdjust="spacingAndGlyphs">10</text>
<line x1="437.15" y1="366.1" x2="437.15" y2="368.9" stroke="#000" stroke-width="1.2"/>
<line x1="454.9" y1="366.1" x2="454.9" y2="368.9" stroke="#000" stroke-width="1.2"/>
<text x="454.9" y="380.15" font-size="8.6" text-anchor="middle" fill="#333" stroke="#333" textLength="8.2" lengthAdjust="spacingAndGlyphs">12</text>
<line x1="367" y1="258.6" x2="367" y2="261" stroke="#000" stroke-width="1.1"/>
<text x="341.8" y="380.2" font-size="8.7" text-anchor="end" fill="#333" stroke="#333" textLength="30.2" lengthAdjust="spacingAndGlyphs">Months:</text>
<text transform="translate(318.7 307.8) rotate(-90)" x="0" y="3.82" font-size="10.6" text-anchor="middle" fill="#333" stroke="#333" textLength="55.5" lengthAdjust="spacingAndGlyphs">Percent survival</text>
<line x1="351.2" y1="325" x2="363" y2="325" stroke="#9a1438" stroke-width="1.6"/>
<polygon points="357.1,322.83 358.8,325.78 355.4,325.78" fill="#9a1438" stroke="none" stroke-width="0"/>
<line x1="351.2" y1="335.8" x2="354.2" y2="335.8" stroke="#2d4a84" stroke-width="1.5"/>
<line x1="360" y1="335.8" x2="363" y2="335.8" stroke="#2d4a84" stroke-width="1.5"/>
<polygon points="357.1,333.63 358.8,336.58 355.4,336.58" fill="#2d4a84" stroke="none" stroke-width="0"/>
<text x="366" y="327.8" font-size="8.3" text-anchor="start" fill="#333" stroke="#333" textLength="11.2" lengthAdjust="spacingAndGlyphs">ctr</text>
<text x="366" y="338.6" font-size="8.3" text-anchor="start" fill="#333" stroke="#333" textLength="29.6" lengthAdjust="spacingAndGlyphs">CK1 inh.</text>
<path d="M400.7 322.6 H403.4 V336.2 H400.7" stroke="#000" stroke-width="1.1" fill="none"/>
<text x="412.5" y="330" font-size="7.5" text-anchor="middle" fill="#222" stroke="#222">*</text>
<text x="405.3" y="337.2" font-size="8.3" text-anchor="start" fill="#333" stroke="#333" textLength="23.6" lengthAdjust="spacingAndGlyphs">0.0257</text>
<text x="349.3" y="358.7" font-size="8.3" text-anchor="start" fill="#333" stroke="#333" textLength="30" lengthAdjust="spacingAndGlyphs">CK1 inh.</text>
<text x="414.3" y="358.7" font-size="8.3" text-anchor="start" fill="#333" stroke="#333" textLength="29.6" lengthAdjust="spacingAndGlyphs">CK1 inh.</text>
<line x1="348.4" y1="364.4" x2="366.3" y2="364.4" stroke="#000" stroke-width="1.1"/>
<line x1="348.4" y1="359.4" x2="348.4" y2="363.4" stroke="#000" stroke-width="1.1"/>
<polygon points="346.2,360.6 350.6,360.6 348.4,365" fill="#111"/>
<line x1="366.3" y1="359.4" x2="366.3" y2="363.4" stroke="#000" stroke-width="1.1"/>
<polygon points="364.1,360.6 368.5,360.6 366.3,365" fill="#111"/>
<line x1="420" y1="364.4" x2="438.2" y2="364.4" stroke="#000" stroke-width="1.1"/>
<line x1="420" y1="359.4" x2="420" y2="363.4" stroke="#000" stroke-width="1.1"/>
<polygon points="417.8,360.6 422.2,360.6 420,365" fill="#111"/>
<line x1="438.2" y1="359.4" x2="438.2" y2="363.4" stroke="#000" stroke-width="1.1"/>
<polygon points="436,360.6 440.4,360.6 438.2,365" fill="#111"/>
<text x="9.8" y="398.4" font-size="11.3" fill="#000" stroke="#000" style="stroke-width:0.45px" font-weight="bold">F</text>
<text x="22.9" y="405.3" font-size="9" fill="#000" font-weight="bold">i</text>
<text x="32.7" y="418.3" font-size="9.7" text-anchor="start" fill="#000" stroke="#000" font-weight="bold" textLength="100.8" lengthAdjust="spacingAndGlyphs">Spleen size (Exp 1+2)</text>
<rect x="76.4" y="500.6" width="14.5" height="17.9" fill="#f3f5fb" stroke="#2f4a80" stroke-width="1.2"/>
<rect x="97.2" y="508" width="13.6" height="10.5" fill="white" stroke="#d4ecc6" stroke-width="0.8"/>
<circle cx="58" cy="517" r="1.7" fill="#e5909c" stroke="#a3093a" stroke-width="0.8"/>
<circle cx="61.8" cy="517" r="1.7" fill="#e5909c" stroke="#a3093a" stroke-width="0.8"/>
<circle cx="65.6" cy="517" r="1.7" fill="#e5909c" stroke="#a3093a" stroke-width="0.8"/>
<circle cx="69.2" cy="517" r="1.7" fill="#e5909c" stroke="#a3093a" stroke-width="0.8"/>
<circle cx="83.5" cy="451.7" r="1.6" fill="#2a477f" stroke="none" stroke-width="0"/>
<circle cx="81.2" cy="477.3" r="1.6" fill="#2a477f" stroke="none" stroke-width="0"/>
<circle cx="85.8" cy="478.7" r="1.6" fill="#2a477f" stroke="none" stroke-width="0"/>
<circle cx="81.2" cy="489.6" r="1.6" fill="#2a477f" stroke="none" stroke-width="0"/>
<circle cx="85.8" cy="487.3" r="1.6" fill="#2a477f" stroke="none" stroke-width="0"/>
<circle cx="83.5" cy="497.9" r="1.6" fill="#2a477f" stroke="none" stroke-width="0"/>
<circle cx="79.6" cy="501.7" r="1.6" fill="#2a477f" stroke="none" stroke-width="0"/>
<circle cx="87.7" cy="503.1" r="1.6" fill="#2a477f" stroke="none" stroke-width="0"/>
<circle cx="83.5" cy="504.6" r="1.6" fill="#2a477f" stroke="none" stroke-width="0"/>
<circle cx="79.8" cy="510" r="1.6" fill="#2a477f" stroke="none" stroke-width="0"/>
<circle cx="87.7" cy="509.4" r="1.6" fill="#2a477f" stroke="none" stroke-width="0"/>
<circle cx="85.4" cy="514.6" r="1.6" fill="#2a477f" stroke="none" stroke-width="0"/>
<circle cx="82" cy="517.5" r="1.6" fill="#2a477f" stroke="none" stroke-width="0"/>
<circle cx="103.75" cy="496.3" r="1.45" fill="white" stroke="#6cb444" stroke-width="0.9"/>
<circle cx="103.5" cy="506.6" r="1.45" fill="white" stroke="#6cb444" stroke-width="0.9"/>
<circle cx="101.8" cy="509" r="1.45" fill="white" stroke="#6cb444" stroke-width="0.9"/>
<circle cx="105.4" cy="508.8" r="1.45" fill="white" stroke="#6cb444" stroke-width="0.9"/>
<circle cx="100.2" cy="511.2" r="1.45" fill="white" stroke="#6cb444" stroke-width="0.9"/>
<circle cx="103.2" cy="511" r="1.45" fill="white" stroke="#6cb444" stroke-width="0.9"/>
<circle cx="106.6" cy="511.2" r="1.45" fill="white" stroke="#6cb444" stroke-width="0.9"/>
<circle cx="98.7" cy="513.6" r="1.45" fill="white" stroke="#6cb444" stroke-width="0.9"/>
<circle cx="101.6" cy="513.4" r="1.45" fill="white" stroke="#6cb444" stroke-width="0.9"/>
<circle cx="104.6" cy="513.6" r="1.45" fill="white" stroke="#6cb444" stroke-width="0.9"/>
<circle cx="107.8" cy="513.4" r="1.45" fill="white" stroke="#6cb444" stroke-width="0.9"/>
<circle cx="97.8" cy="516" r="1.45" fill="white" stroke="#6cb444" stroke-width="0.9"/>
<circle cx="100.6" cy="516.2" r="1.45" fill="white" stroke="#6cb444" stroke-width="0.9"/>
<circle cx="103.6" cy="515.8" r="1.45" fill="white" stroke="#6cb444" stroke-width="0.9"/>
<circle cx="106.6" cy="516.2" r="1.45" fill="white" stroke="#6cb444" stroke-width="0.9"/>
<circle cx="109.6" cy="516" r="1.45" fill="white" stroke="#6cb444" stroke-width="0.9"/>
<line x1="52.8" y1="424.4" x2="52.8" y2="519.1" stroke="#000" stroke-width="1.3"/>
<line x1="52.2" y1="518.5" x2="114.2" y2="518.5" stroke="#000" stroke-width="1.3"/>
<line x1="49.6" y1="518.5" x2="52.8" y2="518.5" stroke="#000" stroke-width="1.2"/>
<text x="46.7" y="520.85" font-size="8.6" text-anchor="end" fill="#333" stroke="#333" textLength="4.1" lengthAdjust="spacingAndGlyphs">0</text>
<line x1="49.6" y1="495.55" x2="52.8" y2="495.55" stroke="#000" stroke-width="1.2"/>
<text x="46.7" y="497.9" font-size="8.6" text-anchor="end" fill="#333" stroke="#333" textLength="4.1" lengthAdjust="spacingAndGlyphs">5</text>
<line x1="49.6" y1="472.6" x2="52.8" y2="472.6" stroke="#000" stroke-width="1.2"/>
<text x="46.7" y="474.95" font-size="8.6" text-anchor="end" fill="#333" stroke="#333" textLength="8.2" lengthAdjust="spacingAndGlyphs">10</text>
<line x1="49.6" y1="449.65" x2="52.8" y2="449.65" stroke="#000" stroke-width="1.2"/>
<text x="46.7" y="452" font-size="8.6" text-anchor="end" fill="#333" stroke="#333" textLength="8.2" lengthAdjust="spacingAndGlyphs">15</text>
<line x1="49.6" y1="426.7" x2="52.8" y2="426.7" stroke="#000" stroke-width="1.2"/>
<text x="46.7" y="429.05" font-size="8.6" text-anchor="end" fill="#333" stroke="#333" textLength="8.2" lengthAdjust="spacingAndGlyphs">20</text>
<line x1="62.5" y1="518.5" x2="62.5" y2="521.3" stroke="#000" stroke-width="1.2"/>
<line x1="83.2" y1="518.5" x2="83.2" y2="521.3" stroke="#000" stroke-width="1.2"/>
<line x1="103.8" y1="518.5" x2="103.8" y2="521.3" stroke="#000" stroke-width="1.2"/>
<path d="M82.6 441.2 V437.7 H106.5 V459.4" stroke="#000" stroke-width="1.1" fill="none"/>
<text x="94.6" y="437.6" font-size="7.5" text-anchor="middle" fill="#222" stroke="#222">*</text>
<text transform="translate(27.7 471) rotate(-90)" x="0" y="3.82" font-size="10.6" text-anchor="middle" fill="#333" stroke="#333" textLength="58.8" lengthAdjust="spacingAndGlyphs">% of body weight</text>
<text transform="translate(67.1 528.6) rotate(-45)" font-size="9.2" text-anchor="end" fill="#333" stroke="#333" textLength="12" lengthAdjust="spacingAndGlyphs">WT</text>
<text transform="translate(87.8 528.6) rotate(-45)" font-size="9.2" text-anchor="end" fill="#333" stroke="#333" textLength="16" lengthAdjust="spacingAndGlyphs">CTR</text>
<text transform="translate(108.4 528.6) rotate(-45)" font-size="9.2" text-anchor="end" fill="#333" stroke="#333" textLength="29.5" lengthAdjust="spacingAndGlyphs">CK1 inh.</text>
<text x="147.6" y="405" font-size="9" fill="#000" font-weight="bold">ii</text>
<defs><linearGradient id="pg1" x1="0" y1="0" x2="0" y2="1"><stop offset="0" stop-color="#e4e4e4"/><stop offset="0.45" stop-color="#f6f6f6"/><stop offset="1" stop-color="#ffffff"/></linearGradient><linearGradient id="pg2" x1="0" y1="0" x2="1" y2="0"><stop offset="0" stop-color="#ffffff"/><stop offset="0.7" stop-color="#f4f4f4"/><stop offset="1" stop-color="#bdbdbd"/></linearGradient><filter id="blr" x="-50%" y="-50%" width="200%" height="200%"><feGaussianBlur stdDeviation="1.6"/></filter><radialGradient id="spg" cx="0.5" cy="0.5" r="0.6"><stop offset="0" stop-color="#505050"/><stop offset="0.6" stop-color="#3a3a3a"/><stop offset="1" stop-color="#262626"/></radialGradient></defs>
<rect x="163.4" y="405.3" width="43.3" height="49.3" fill="url(#pg1)" stroke="#444" stroke-width="1"/>
<line x1="178.4" y1="405.3" x2="178.4" y2="454.6" stroke="#444" stroke-width="1"/>
<line x1="192.7" y1="405.3" x2="192.7" y2="454.6" stroke="#444" stroke-width="1"/>
<path d="M166 444 Q 172 447 176 448.5" stroke="#d0d0d0" stroke-width="1" fill="none"/>
<path d="M181 451 Q 186 449 191 448.5" stroke="#d8d8d8" stroke-width="1" fill="none"/>
<line x1="158.8" y1="409.8" x2="158.8" y2="451" stroke="#000" stroke-width="1.2"/>
<polygon points="156.4,411.2 161.2,411.2 158.8,406.8" fill="#111"/>
<polygon points="156.4,449.6 161.2,449.6 158.8,454" fill="#111"/>
<text transform="translate(152.3 430.3) rotate(-90)" x="0" y="3.17" font-size="8.8" text-anchor="middle" fill="#333" stroke="#333" textLength="24.7" lengthAdjust="spacingAndGlyphs">3.5 cm</text>
<text x="185.4" y="465.3" font-size="8.5" text-anchor="middle" fill="#333" stroke="#333" textLength="12" lengthAdjust="spacingAndGlyphs">WT</text>
<path d="M169.8 409.2 C170.32 409.3 171.27 409.5 171.9 410.5 C172.53 411.5 173.25 413.58 173.6 415.2 C173.95 416.82 174.15 418.52 174 420.2 C173.85 421.88 173.33 423.75 172.7 425.3 C172.07 426.85 171.03 428.87 170.2 429.5 C169.37 430.13 168.2 429.52 167.7 429.1 C167.2 428.68 166.93 428.2 167.2 427 C167.47 425.8 168.87 423.73 169.3 421.9 C169.73 420.07 169.87 417.68 169.8 416 C169.73 414.32 169.07 412.82 168.9 411.8 C168.73 410.78 168.65 410.33 168.8 409.9 C168.95 409.47 169.28 409.1 169.8 409.2 Z" fill="#8a8a8a" opacity="0.45" filter="url(#blr)" transform="translate(-1.2 0.5)"/>
<path d="M169.8 409.2 C170.32 409.3 171.27 409.5 171.9 410.5 C172.53 411.5 173.25 413.58 173.6 415.2 C173.95 416.82 174.15 418.52 174 420.2 C173.85 421.88 173.33 423.75 172.7 425.3 C172.07 426.85 171.03 428.87 170.2 429.5 C169.37 430.13 168.2 429.52 167.7 429.1 C167.2 428.68 166.93 428.2 167.2 427 C167.47 425.8 168.87 423.73 169.3 421.9 C169.73 420.07 169.87 417.68 169.8 416 C169.73 414.32 169.07 412.82 168.9 411.8 C168.73 410.78 168.65 410.33 168.8 409.9 C168.95 409.47 169.28 409.1 169.8 409.2 Z" fill="url(#spg)" stroke="#2a2a2a" stroke-width="0.5"/>
<path d="M183.3 410.1 C183.83 410.18 184.95 410.45 185.8 411.3 C186.65 412.15 187.9 413.85 188.4 415.2 C188.9 416.55 189.02 418 188.8 419.4 C188.58 420.8 187.87 422.55 187.1 423.6 C186.33 424.65 185.12 425.48 184.2 425.7 C183.28 425.92 181.97 425.32 181.6 424.9 C181.23 424.48 181.57 424.05 182 423.2 C182.43 422.35 183.77 421 184.2 419.8 C184.63 418.6 184.75 417.2 184.6 416 C184.45 414.8 183.63 413.47 183.3 412.6 C182.97 411.73 182.6 411.22 182.6 410.8 C182.6 410.38 182.77 410.02 183.3 410.1 Z" fill="#8a8a8a" opacity="0.45" filter="url(#blr)" transform="translate(-1.2 0.5)"/>
<path d="M183.3 410.1 C183.83 410.18 184.95 410.45 185.8 411.3 C186.65 412.15 187.9 413.85 188.4 415.2 C188.9 416.55 189.02 418 188.8 419.4 C188.58 420.8 187.87 422.55 187.1 423.6 C186.33 424.65 185.12 425.48 184.2 425.7 C183.28 425.92 181.97 425.32 181.6 424.9 C181.23 424.48 181.57 424.05 182 423.2 C182.43 422.35 183.77 421 184.2 419.8 C184.63 418.6 184.75 417.2 184.6 416 C184.45 414.8 183.63 413.47 183.3 412.6 C182.97 411.73 182.6 411.22 182.6 410.8 C182.6 410.38 182.77 410.02 183.3 410.1 Z" fill="url(#spg)" stroke="#2a2a2a" stroke-width="0.5"/>
<path d="M198.5 408.4 C199 408.5 200.25 408.85 201.1 409.7 C201.95 410.55 203.03 412.03 203.6 413.5 C204.17 414.97 204.57 416.88 204.5 418.5 C204.43 420.12 203.85 422 203.2 423.2 C202.55 424.4 201.38 425.42 200.6 425.7 C199.82 425.98 198.87 425.38 198.5 424.9 C198.13 424.42 198.12 423.72 198.4 422.8 C198.68 421.88 199.9 420.82 200.2 419.4 C200.5 417.98 200.4 415.72 200.2 414.3 C200 412.88 199.35 411.77 199 410.9 C198.65 410.03 198.18 409.52 198.1 409.1 C198.02 408.68 198 408.3 198.5 408.4 Z" fill="#8a8a8a" opacity="0.45" filter="url(#blr)" transform="translate(-1.2 0.5)"/>
<path d="M198.5 408.4 C199 408.5 200.25 408.85 201.1 409.7 C201.95 410.55 203.03 412.03 203.6 413.5 C204.17 414.97 204.57 416.88 204.5 418.5 C204.43 420.12 203.85 422 203.2 423.2 C202.55 424.4 201.38 425.42 200.6 425.7 C199.82 425.98 198.87 425.38 198.5 424.9 C198.13 424.42 198.12 423.72 198.4 422.8 C198.68 421.88 199.9 420.82 200.2 419.4 C200.5 417.98 200.4 415.72 200.2 414.3 C200 412.88 199.35 411.77 199 410.9 C198.65 410.03 198.18 409.52 198.1 409.1 C198.02 408.68 198 408.3 198.5 408.4 Z" fill="url(#spg)" stroke="#2a2a2a" stroke-width="0.5"/>
<rect x="163.4" y="470.3" width="89.2" height="48.7" fill="white" stroke="#444" stroke-width="1"/>
<rect x="218.2" y="470.8" width="33.9" height="47.7" fill="url(#pg2)" stroke="none" stroke-width="0"/>
<line x1="175.4" y1="470.3" x2="175.4" y2="519" stroke="#444" stroke-width="1"/>
<line x1="196.7" y1="470.3" x2="196.7" y2="519" stroke="#444" stroke-width="1"/>
<line x1="217.8" y1="470.3" x2="217.8" y2="519" stroke="#444" stroke-width="1"/>
<line x1="159.6" y1="474.4" x2="159.6" y2="515.3" stroke="#000" stroke-width="1.2"/>
<polygon points="157.2,475.8 162,475.8 159.6,471.4" fill="#111"/>
<polygon points="157.2,513.9 162,513.9 159.6,518.3" fill="#111"/>
<text transform="translate(152.5 494.4) rotate(-90)" x="0" y="3.17" font-size="8.8" text-anchor="middle" fill="#333" stroke="#333" textLength="24.2" lengthAdjust="spacingAndGlyphs">3.5 cm</text>
<text x="175.6" y="529.8" font-size="8.4" text-anchor="start" fill="#333" stroke="#333" textLength="62.6" lengthAdjust="spacingAndGlyphs">E&#956;-TCL1: control</text>
<path d="M167.5 476.2 C168.05 476.37 169.15 477.03 169.6 478.5 C170.05 479.97 170.22 482.75 170.2 485 C170.18 487.25 169.95 490.27 169.5 492 C169.05 493.73 168.12 494.98 167.5 495.4 C166.88 495.82 166.15 495.57 165.8 494.5 C165.45 493.43 165.37 491.08 165.4 489 C165.43 486.92 165.85 483.92 166 482 C166.15 480.08 166.05 478.47 166.3 477.5 C166.55 476.53 166.95 476.03 167.5 476.2 Z" fill="#8a8a8a" opacity="0.45" filter="url(#blr)" transform="translate(-1.2 0.5)"/>
<path d="M167.5 476.2 C168.05 476.37 169.15 477.03 169.6 478.5 C170.05 479.97 170.22 482.75 170.2 485 C170.18 487.25 169.95 490.27 169.5 492 C169.05 493.73 168.12 494.98 167.5 495.4 C166.88 495.82 166.15 495.57 165.8 494.5 C165.45 493.43 165.37 491.08 165.4 489 C165.43 486.92 165.85 483.92 166 482 C166.15 480.08 166.05 478.47 166.3 477.5 C166.55 476.53 166.95 476.03 167.5 476.2 Z" fill="url(#spg)" stroke="#2a2a2a" stroke-width="0.5"/>
<path d="M182.3 474.6 C182.82 474.2 183.92 473.6 185 473.8 C186.08 474 187.72 474.63 188.8 475.8 C189.88 476.97 190.98 479.2 191.5 480.8 C192.02 482.4 192.08 483.62 191.9 485.4 C191.72 487.18 191.17 489.58 190.4 491.5 C189.63 493.42 188.45 495.23 187.3 496.9 C186.15 498.57 184.58 500.6 183.5 501.5 C182.42 502.4 181.38 502.55 180.8 502.3 C180.22 502.05 179.82 501.15 180 500 C180.18 498.85 181.27 497.07 181.9 495.4 C182.53 493.73 183.42 491.93 183.8 490 C184.18 488.07 184.38 485.6 184.2 483.8 C184.02 482 183.08 480.47 182.7 479.2 C182.32 477.93 181.97 476.97 181.9 476.2 C181.83 475.43 181.78 475 182.3 474.6 Z" fill="#8a8a8a" opacity="0.45" filter="url(#blr)" transform="translate(-1.2 0.5)"/>
<path d="M182.3 474.6 C182.82 474.2 183.92 473.6 185 473.8 C186.08 474 187.72 474.63 188.8 475.8 C189.88 476.97 190.98 479.2 191.5 480.8 C192.02 482.4 192.08 483.62 191.9 485.4 C191.72 487.18 191.17 489.58 190.4 491.5 C189.63 493.42 188.45 495.23 187.3 496.9 C186.15 498.57 184.58 500.6 183.5 501.5 C182.42 502.4 181.38 502.55 180.8 502.3 C180.22 502.05 179.82 501.15 180 500 C180.18 498.85 181.27 497.07 181.9 495.4 C182.53 493.73 183.42 491.93 183.8 490 C184.18 488.07 184.38 485.6 184.2 483.8 C184.02 482 183.08 480.47 182.7 479.2 C182.32 477.93 181.97 476.97 181.9 476.2 C181.83 475.43 181.78 475 182.3 474.6 Z" fill="url(#spg)" stroke="#2a2a2a" stroke-width="0.5"/>
<path d="M198.1 476.9 C198.62 476 199.92 474.37 201.2 473.8 C202.48 473.23 204.4 472.98 205.8 473.5 C207.2 474.02 208.45 474.92 209.6 476.9 C210.75 478.88 212.12 482.45 212.7 485.4 C213.28 488.35 213.35 491.53 213.1 494.6 C212.85 497.67 212.17 501.1 211.2 503.8 C210.23 506.5 208.72 509.32 207.3 510.8 C205.88 512.28 204.05 512.58 202.7 512.7 C201.35 512.82 199.72 512.2 199.2 511.5 C198.68 510.8 199.02 510.03 199.6 508.5 C200.18 506.97 202.05 504.48 202.7 502.3 C203.35 500.12 203.57 497.83 203.5 495.4 C203.43 492.97 202.95 489.88 202.3 487.7 C201.65 485.52 200.3 483.72 199.6 482.3 C198.9 480.88 198.35 480.1 198.1 479.2 C197.85 478.3 197.58 477.8 198.1 476.9 Z" fill="#8a8a8a" opacity="0.55" filter="url(#blr)" transform="translate(-2.2 0.5)"/>
<path d="M198.1 476.9 C198.62 476 199.92 474.37 201.2 473.8 C202.48 473.23 204.4 472.98 205.8 473.5 C207.2 474.02 208.45 474.92 209.6 476.9 C210.75 478.88 212.12 482.45 212.7 485.4 C213.28 488.35 213.35 491.53 213.1 494.6 C212.85 497.67 212.17 501.1 211.2 503.8 C210.23 506.5 208.72 509.32 207.3 510.8 C205.88 512.28 204.05 512.58 202.7 512.7 C201.35 512.82 199.72 512.2 199.2 511.5 C198.68 510.8 199.02 510.03 199.6 508.5 C200.18 506.97 202.05 504.48 202.7 502.3 C203.35 500.12 203.57 497.83 203.5 495.4 C203.43 492.97 202.95 489.88 202.3 487.7 C201.65 485.52 200.3 483.72 199.6 482.3 C198.9 480.88 198.35 480.1 198.1 479.2 C197.85 478.3 197.58 477.8 198.1 476.9 Z" fill="url(#spg)" stroke="#2a2a2a" stroke-width="0.5"/>
<path d="M223.3 474 C224.63 473.3 228.22 472.43 230.9 472.8 C233.58 473.17 236.87 474.52 239.4 476.2 C241.93 477.88 244.55 480.37 246.1 482.9 C247.65 485.43 248.48 488.3 248.7 491.4 C248.92 494.5 248.53 498.4 247.4 501.5 C246.27 504.6 244.22 507.73 241.9 510 C239.58 512.27 236.45 514.12 233.5 515.1 C230.55 516.08 226.32 516.18 224.2 515.9 C222.08 515.62 221.3 514.38 220.8 513.4 C220.3 512.42 220.22 511.13 221.2 510 C222.18 508.87 224.52 507.73 226.7 506.6 C228.88 505.47 232.33 504.62 234.3 503.2 C236.27 501.78 237.65 499.93 238.5 498.1 C239.35 496.27 239.68 494.02 239.4 492.2 C239.12 490.38 238.22 488.88 236.8 487.2 C235.38 485.52 232.87 483.38 230.9 482.1 C228.93 480.82 226.33 480.35 225 479.5 C223.67 478.65 223.18 477.92 222.9 477 C222.62 476.08 221.97 474.7 223.3 474 Z" fill="#8a8a8a" opacity="0.5" filter="url(#blr)" transform="translate(1.6 0.8)"/>
<path d="M223.3 474 C224.63 473.3 228.22 472.43 230.9 472.8 C233.58 473.17 236.87 474.52 239.4 476.2 C241.93 477.88 244.55 480.37 246.1 482.9 C247.65 485.43 248.48 488.3 248.7 491.4 C248.92 494.5 248.53 498.4 247.4 501.5 C246.27 504.6 244.22 507.73 241.9 510 C239.58 512.27 236.45 514.12 233.5 515.1 C230.55 516.08 226.32 516.18 224.2 515.9 C222.08 515.62 221.3 514.38 220.8 513.4 C220.3 512.42 220.22 511.13 221.2 510 C222.18 508.87 224.52 507.73 226.7 506.6 C228.88 505.47 232.33 504.62 234.3 503.2 C236.27 501.78 237.65 499.93 238.5 498.1 C239.35 496.27 239.68 494.02 239.4 492.2 C239.12 490.38 238.22 488.88 236.8 487.2 C235.38 485.52 232.87 483.38 230.9 482.1 C228.93 480.82 226.33 480.35 225 479.5 C223.67 478.65 223.18 477.92 222.9 477 C222.62 476.08 221.97 474.7 223.3 474 Z" fill="url(#spg)" stroke="#2a2a2a" stroke-width="0.5"/>
<rect x="256.6" y="470.2" width="66.2" height="48.4" fill="white" stroke="#444" stroke-width="1"/>
<line x1="273.4" y1="470.2" x2="273.4" y2="518.6" stroke="#444" stroke-width="1"/>
<line x1="290.7" y1="470.2" x2="290.7" y2="518.6" stroke="#444" stroke-width="1"/>
<line x1="304.6" y1="470.2" x2="304.6" y2="518.6" stroke="#444" stroke-width="1"/>
<text x="257.1" y="529.4" font-size="8.4" text-anchor="start" fill="#333" stroke="#333" textLength="66.6" lengthAdjust="spacingAndGlyphs">E&#956;-TCL1: CK1 inh.</text>
<path d="M260.8 474.5 C260.97 473.75 262.55 472.93 263.6 473.1 C264.65 473.27 266.05 474.28 267.1 475.5 C268.15 476.72 269.27 478.78 269.9 480.4 C270.53 482.02 270.97 483.58 270.9 485.2 C270.83 486.82 270.37 488.65 269.5 490.1 C268.63 491.55 266.92 492.92 265.7 493.9 C264.48 494.88 263.07 495.77 262.2 496 C261.33 496.23 260.38 495.93 260.5 495.3 C260.62 494.67 262.1 493.53 262.9 492.2 C263.7 490.87 264.95 489.03 265.3 487.3 C265.65 485.57 265.45 483.42 265 481.8 C264.55 480.18 263.3 478.82 262.6 477.6 C261.9 476.38 260.63 475.25 260.8 474.5 Z" fill="#8a8a8a" opacity="0.45" filter="url(#blr)" transform="translate(-1.2 0.5)"/>
<path d="M260.8 474.5 C260.97 473.75 262.55 472.93 263.6 473.1 C264.65 473.27 266.05 474.28 267.1 475.5 C268.15 476.72 269.27 478.78 269.9 480.4 C270.53 482.02 270.97 483.58 270.9 485.2 C270.83 486.82 270.37 488.65 269.5 490.1 C268.63 491.55 266.92 492.92 265.7 493.9 C264.48 494.88 263.07 495.77 262.2 496 C261.33 496.23 260.38 495.93 260.5 495.3 C260.62 494.67 262.1 493.53 262.9 492.2 C263.7 490.87 264.95 489.03 265.3 487.3 C265.65 485.57 265.45 483.42 265 481.8 C264.55 480.18 263.3 478.82 262.6 477.6 C261.9 476.38 260.63 475.25 260.8 474.5 Z" fill="url(#spg)" stroke="#2a2a2a" stroke-width="0.5"/>
<path d="M282.3 473.5 C283.28 473.4 285.1 473.75 285.8 474.2 C286.5 474.65 286.68 475.28 286.5 476.2 C286.32 477.12 285.12 478.42 284.7 479.7 C284.28 480.98 284.05 482.28 284 483.9 C283.95 485.52 284.1 487.57 284.4 489.4 C284.7 491.23 285.75 493.57 285.8 494.9 C285.85 496.23 285.4 497.17 284.7 497.4 C284 497.63 282.68 497.28 281.6 496.3 C280.52 495.32 279 493.47 278.2 491.5 C277.4 489.53 276.8 486.7 276.8 484.5 C276.8 482.3 277.68 479.92 278.2 478.3 C278.72 476.68 279.22 475.6 279.9 474.8 C280.58 474 281.32 473.6 282.3 473.5 Z" fill="#8a8a8a" opacity="0.45" filter="url(#blr)" transform="translate(1.3 0.5)"/>
<path d="M282.3 473.5 C283.28 473.4 285.1 473.75 285.8 474.2 C286.5 474.65 286.68 475.28 286.5 476.2 C286.32 477.12 285.12 478.42 284.7 479.7 C284.28 480.98 284.05 482.28 284 483.9 C283.95 485.52 284.1 487.57 284.4 489.4 C284.7 491.23 285.75 493.57 285.8 494.9 C285.85 496.23 285.4 497.17 284.7 497.4 C284 497.63 282.68 497.28 281.6 496.3 C280.52 495.32 279 493.47 278.2 491.5 C277.4 489.53 276.8 486.7 276.8 484.5 C276.8 482.3 277.68 479.92 278.2 478.3 C278.72 476.68 279.22 475.6 279.9 474.8 C280.58 474 281.32 473.6 282.3 473.5 Z" fill="url(#spg)" stroke="#2a2a2a" stroke-width="0.5"/>
<path d="M294.9 474.6 C295.6 474.72 296.98 474.83 297.8 475.6 C298.62 476.37 299.35 477.73 299.8 479.2 C300.25 480.67 300.55 482.67 300.5 484.4 C300.45 486.13 300.05 487.97 299.5 489.6 C298.95 491.23 298.07 493.05 297.2 494.2 C296.33 495.35 295.07 496.28 294.3 496.5 C293.53 496.72 292.88 496.65 292.6 495.5 C292.32 494.35 292.48 491.67 292.6 489.6 C292.72 487.53 293.25 485.17 293.3 483.1 C293.35 481.03 292.85 478.57 292.9 477.2 C292.95 475.83 293.27 475.33 293.6 474.9 C293.93 474.47 294.2 474.48 294.9 474.6 Z" fill="#8a8a8a" opacity="0.45" filter="url(#blr)" transform="translate(1.5 0.5)"/>
<path d="M294.9 474.6 C295.6 474.72 296.98 474.83 297.8 475.6 C298.62 476.37 299.35 477.73 299.8 479.2 C300.25 480.67 300.55 482.67 300.5 484.4 C300.45 486.13 300.05 487.97 299.5 489.6 C298.95 491.23 298.07 493.05 297.2 494.2 C296.33 495.35 295.07 496.28 294.3 496.5 C293.53 496.72 292.88 496.65 292.6 495.5 C292.32 494.35 292.48 491.67 292.6 489.6 C292.72 487.53 293.25 485.17 293.3 483.1 C293.35 481.03 292.85 478.57 292.9 477.2 C292.95 475.83 293.27 475.33 293.6 474.9 C293.93 474.47 294.2 474.48 294.9 474.6 Z" fill="url(#spg)" stroke="#2a2a2a" stroke-width="0.5"/>
<path d="M309.9 474.6 C310.22 474.05 311.27 472.9 312.2 472.9 C313.13 472.9 314.4 473.55 315.5 474.6 C316.6 475.65 317.93 477.47 318.8 479.2 C319.67 480.93 320.6 483.27 320.7 485 C320.8 486.73 320.15 488.07 319.4 489.6 C318.65 491.13 317.62 492.88 316.2 494.2 C314.78 495.52 312.05 497.12 310.9 497.5 C309.75 497.88 309.3 497.27 309.3 496.5 C309.3 495.73 310.08 494.37 310.9 492.9 C311.72 491.43 313.6 489.33 314.2 487.7 C314.8 486.07 314.77 484.63 314.5 483.1 C314.23 481.57 313.3 479.65 312.6 478.5 C311.9 477.35 310.75 476.85 310.3 476.2 C309.85 475.55 309.58 475.15 309.9 474.6 Z" fill="#8a8a8a" opacity="0.45" filter="url(#blr)" transform="translate(-1.2 0.5)"/>
<path d="M309.9 474.6 C310.22 474.05 311.27 472.9 312.2 472.9 C313.13 472.9 314.4 473.55 315.5 474.6 C316.6 475.65 317.93 477.47 318.8 479.2 C319.67 480.93 320.6 483.27 320.7 485 C320.8 486.73 320.15 488.07 319.4 489.6 C318.65 491.13 317.62 492.88 316.2 494.2 C314.78 495.52 312.05 497.12 310.9 497.5 C309.75 497.88 309.3 497.27 309.3 496.5 C309.3 495.73 310.08 494.37 310.9 492.9 C311.72 491.43 313.6 489.33 314.2 487.7 C314.8 486.07 314.77 484.63 314.5 483.1 C314.23 481.57 313.3 479.65 312.6 478.5 C311.9 477.35 310.75 476.85 310.3 476.2 C309.85 475.55 309.58 475.15 309.9 474.6 Z" fill="url(#spg)" stroke="#2a2a2a" stroke-width="0.5"/>
<text x="338.8" y="405.4" font-size="9" fill="#000" font-weight="bold">iii</text>
<text x="353.1" y="418.6" font-size="9.7" text-anchor="start" fill="#000" stroke="#000" font-weight="bold" textLength="92" lengthAdjust="spacingAndGlyphs">Liver size (Exp 1+2)</text>
<rect x="372.4" y="503.3" width="14.1" height="15" fill="#fdf6f7" stroke="#b01c44" stroke-width="1.1"/>
<rect x="392.6" y="491.2" width="14.1" height="27.1" fill="#f3f5fb" stroke="#2f4a80" stroke-width="1.1"/>
<rect x="413" y="499.9" width="13.9" height="18.4" fill="white" stroke="#9ccf80" stroke-width="1"/>
<circle cx="375.8" cy="503.9" r="1.55" fill="#fbe6ea" stroke="#a3093a" stroke-width="0.9"/>
<circle cx="379.5" cy="503.9" r="1.55" fill="#fbe6ea" stroke="#a3093a" stroke-width="0.9"/>
<circle cx="383.2" cy="503.9" r="1.55" fill="#fbe6ea" stroke="#a3093a" stroke-width="0.9"/>
<circle cx="399.4" cy="432.9" r="1.6" fill="#2a477f" stroke="none" stroke-width="0"/>
<circle cx="399.6" cy="462.5" r="1.6" fill="#2a477f" stroke="none" stroke-width="0"/>
<circle cx="399.8" cy="469.1" r="1.6" fill="#2a477f" stroke="none" stroke-width="0"/>
<circle cx="401.3" cy="482" r="1.6" fill="#2a477f" stroke="none" stroke-width="0"/>
<circle cx="397.3" cy="485.8" r="1.6" fill="#2a477f" stroke="none" stroke-width="0"/>
<circle cx="400.3" cy="490.5" r="1.6" fill="#2a477f" stroke="none" stroke-width="0"/>
<circle cx="402" cy="491.4" r="1.6" fill="#2a477f" stroke="none" stroke-width="0"/>
<circle cx="397.3" cy="495.2" r="1.6" fill="#2a477f" stroke="none" stroke-width="0"/>
<circle cx="395.3" cy="499.5" r="1.6" fill="#2a477f" stroke="none" stroke-width="0"/>
<circle cx="399.7" cy="501.5" r="1.6" fill="#2a477f" stroke="none" stroke-width="0"/>
<circle cx="403.8" cy="499.2" r="1.6" fill="#2a477f" stroke="none" stroke-width="0"/>
<circle cx="397.3" cy="507.7" r="1.6" fill="#2a477f" stroke="none" stroke-width="0"/>
<circle cx="401.6" cy="506.2" r="1.6" fill="#2a477f" stroke="none" stroke-width="0"/>
<circle cx="419.5" cy="485.4" r="1.5" fill="white" stroke="#6cb444" stroke-width="0.9"/>
<circle cx="416" cy="498" r="1.5" fill="white" stroke="#6cb444" stroke-width="0.9"/>
<circle cx="419" cy="497.6" r="1.5" fill="white" stroke="#6cb444" stroke-width="0.9"/>
<circle cx="422.3" cy="497.8" r="1.5" fill="white" stroke="#6cb444" stroke-width="0.9"/>
<circle cx="425" cy="498.5" r="1.5" fill="white" stroke="#6cb444" stroke-width="0.9"/>
<circle cx="417.5" cy="501" r="1.5" fill="white" stroke="#6cb444" stroke-width="0.9"/>
<circle cx="420.8" cy="500.8" r="1.5" fill="white" stroke="#6cb444" stroke-width="0.9"/>
<circle cx="423.8" cy="501.5" r="1.5" fill="white" stroke="#6cb444" stroke-width="0.9"/>
<circle cx="419" cy="503.6" r="1.5" fill="white" stroke="#6cb444" stroke-width="0.9"/>
<circle cx="422.2" cy="506.2" r="1.5" fill="white" stroke="#6cb444" stroke-width="0.9"/>
<circle cx="417.8" cy="508.9" r="1.5" fill="white" stroke="#6cb444" stroke-width="0.9"/>
<line x1="369.2" y1="424.2" x2="369.2" y2="518.9" stroke="#000" stroke-width="1.3"/>
<line x1="368.6" y1="518.3" x2="430.4" y2="518.3" stroke="#000" stroke-width="1.3"/>
<line x1="366" y1="518.3" x2="369.2" y2="518.3" stroke="#000" stroke-width="1.2"/>
<text x="362.2" y="520.65" font-size="8.6" text-anchor="end" fill="#333" stroke="#333" textLength="4.1" lengthAdjust="spacingAndGlyphs">0</text>
<line x1="366" y1="499.88" x2="369.2" y2="499.88" stroke="#000" stroke-width="1.2"/>
<text x="362.2" y="502.23" font-size="8.6" text-anchor="end" fill="#333" stroke="#333" textLength="4.1" lengthAdjust="spacingAndGlyphs">5</text>
<line x1="366" y1="481.46" x2="369.2" y2="481.46" stroke="#000" stroke-width="1.2"/>
<text x="362.2" y="483.81" font-size="8.6" text-anchor="end" fill="#333" stroke="#333" textLength="8.2" lengthAdjust="spacingAndGlyphs">10</text>
<line x1="366" y1="463.04" x2="369.2" y2="463.04" stroke="#000" stroke-width="1.2"/>
<text x="362.2" y="465.39" font-size="8.6" text-anchor="end" fill="#333" stroke="#333" textLength="8.2" lengthAdjust="spacingAndGlyphs">15</text>
<line x1="366" y1="444.62" x2="369.2" y2="444.62" stroke="#000" stroke-width="1.2"/>
<text x="362.2" y="446.97" font-size="8.6" text-anchor="end" fill="#333" stroke="#333" textLength="8.2" lengthAdjust="spacingAndGlyphs">20</text>
<line x1="366" y1="426.2" x2="369.2" y2="426.2" stroke="#000" stroke-width="1.2"/>
<text x="362.2" y="428.55" font-size="8.6" text-anchor="end" fill="#333" stroke="#333" textLength="8.2" lengthAdjust="spacingAndGlyphs">25</text>
<line x1="379.5" y1="518.3" x2="379.5" y2="521.1" stroke="#000" stroke-width="1.2"/>
<line x1="399.6" y1="518.3" x2="399.6" y2="521.1" stroke="#000" stroke-width="1.2"/>
<line x1="420" y1="518.3" x2="420" y2="521.1" stroke="#000" stroke-width="1.2"/>
<path d="M402.3 446.0 V444.0 H422.5 V461.3" stroke="#000" stroke-width="1.1" fill="none"/>
<text x="412.4" y="442.1" font-size="8.3" text-anchor="middle" fill="#333" stroke="#333" textLength="24.2" lengthAdjust="spacingAndGlyphs">0.0502</text>
<text transform="translate(342.6 469.5) rotate(-90)" x="0" y="3.82" font-size="10.6" text-anchor="middle" fill="#333" stroke="#333" textLength="63.5" lengthAdjust="spacingAndGlyphs">% of body weight</text>
<text transform="translate(384.1 528.4) rotate(-45)" font-size="9.2" text-anchor="end" fill="#333" stroke="#333" textLength="12" lengthAdjust="spacingAndGlyphs">WT</text>
<text transform="translate(404.2 528.4) rotate(-45)" font-size="9.2" text-anchor="end" fill="#333" stroke="#333" textLength="16" lengthAdjust="spacingAndGlyphs">CTR</text>
<text transform="translate(424.6 528.4) rotate(-45)" font-size="9.2" text-anchor="end" fill="#333" stroke="#333" textLength="29.5" lengthAdjust="spacingAndGlyphs">CK1 inh.</text>
<text x="8.2" y="560.7" font-size="11.3" fill="#000" stroke="#000" style="stroke-width:0.45px" font-weight="bold">G</text>
<text x="19" y="567.7" font-size="9" fill="#000" font-weight="bold">i</text>
<text x="146.3" y="567.8" font-size="9" fill="#000" font-weight="bold">ii</text>
<text x="275.3" y="568.2" font-size="9" fill="#000" font-weight="bold">iii</text>
<text x="398.4" y="568.2" font-size="9" fill="#000" font-weight="bold">iv</text>
<line x1="65.8" y1="596.3" x2="65.8" y2="598.9" stroke="#000" stroke-width="1.2"/>
<line x1="61.5" y1="596.3" x2="70.1" y2="596.3" stroke="#000" stroke-width="1.3"/>
<rect x="57" y="597.9" width="17.6" height="60.3" fill="#ac0532" stroke="none" stroke-width="0"/>
<line x1="91.95" y1="613.3" x2="91.95" y2="621" stroke="#000" stroke-width="1.2"/>
<line x1="87.65" y1="613.3" x2="96.25" y2="613.3" stroke="#000" stroke-width="1.3"/>
<rect x="83.3" y="620" width="17.3" height="38.2" fill="#2f4c86" stroke="none" stroke-width="0"/>
<line x1="117.85" y1="602.1" x2="117.85" y2="605.2" stroke="#000" stroke-width="1.2"/>
<line x1="113.55" y1="602.1" x2="122.15" y2="602.1" stroke="#000" stroke-width="1.3"/>
<rect x="109.2" y="604.2" width="17.3" height="54" fill="#6aab3f" stroke="none" stroke-width="0"/>
<line x1="53.1" y1="576.5" x2="53.1" y2="658.8" stroke="#000" stroke-width="1.3"/>
<line x1="50.6" y1="658.2" x2="130.4" y2="658.2" stroke="#000" stroke-width="1.3"/>
<line x1="50.1" y1="658.2" x2="53.1" y2="658.2" stroke="#000" stroke-width="1.2"/>
<text x="46.5" y="660.55" font-size="8.6" text-anchor="end" fill="#333" stroke="#333" textLength="4.1" lengthAdjust="spacingAndGlyphs">0</text>
<line x1="50.1" y1="623.8" x2="53.1" y2="623.8" stroke="#000" stroke-width="1.2"/>
<text x="46.5" y="626.15" font-size="8.6" text-anchor="end" fill="#333" stroke="#333" textLength="4.1" lengthAdjust="spacingAndGlyphs">5</text>
<line x1="50.1" y1="589.4" x2="53.1" y2="589.4" stroke="#000" stroke-width="1.2"/>
<text x="46.5" y="591.75" font-size="8.6" text-anchor="end" fill="#333" stroke="#333" textLength="8.2" lengthAdjust="spacingAndGlyphs">10</text>
<line x1="65.8" y1="658.2" x2="65.8" y2="661" stroke="#000" stroke-width="1.2"/>
<line x1="91.95" y1="658.2" x2="91.95" y2="661" stroke="#000" stroke-width="1.2"/>
<line x1="117.85" y1="658.2" x2="117.85" y2="661" stroke="#000" stroke-width="1.2"/>
<path d="M65 591.4 V588.3 H117.9 V594.2" stroke="#000" stroke-width="1.1" fill="none"/>
<line x1="89.6" y1="588.8" x2="89.6" y2="610.6" stroke="#555" stroke-width="1.2"/>
<line x1="92" y1="588.8" x2="92" y2="610.6" stroke="#555" stroke-width="1.2"/>
<text x="78" y="587" font-size="8.5" text-anchor="middle" fill="#222" stroke="#222">**</text>
<text x="105" y="587" font-size="8.5" text-anchor="middle" fill="#222" stroke="#222">*</text>
<text transform="translate(71.8 666.6) rotate(-45)" font-size="9.2" text-anchor="end" fill="#333" stroke="#333" textLength="12.5" lengthAdjust="spacingAndGlyphs">WT</text>
<text transform="translate(97.95 666.6) rotate(-45)" font-size="9.2" text-anchor="end" fill="#333" stroke="#333" textLength="16.5" lengthAdjust="spacingAndGlyphs">CTR</text>
<text transform="translate(123.85 666.6) rotate(-45)" font-size="9.2" text-anchor="end" fill="#333" stroke="#333" textLength="30.6" lengthAdjust="spacingAndGlyphs">CK1 inh.</text>
<text transform="translate(27.9 616.8) rotate(-90)" x="0" y="3.6" font-size="10.2" text-anchor="middle" fill="#333" stroke="#333" textLength="25" lengthAdjust="spacingAndGlyphs">10<tspan font-size="7.6" dy="-3.4">9</tspan><tspan dy="3.4">/mL</tspan></text>
<line x1="194.4" y1="596.5" x2="194.4" y2="599" stroke="#000" stroke-width="1.2"/>
<line x1="190.1" y1="596.5" x2="198.7" y2="596.5" stroke="#000" stroke-width="1.3"/>
<rect x="185.5" y="598" width="17.8" height="60.2" fill="#ac0532" stroke="none" stroke-width="0"/>
<line x1="220.3" y1="611.3" x2="220.3" y2="618.5" stroke="#000" stroke-width="1.2"/>
<line x1="216" y1="611.3" x2="224.6" y2="611.3" stroke="#000" stroke-width="1.3"/>
<rect x="211.3" y="617.5" width="18" height="40.7" fill="#2f4c86" stroke="none" stroke-width="0"/>
<line x1="246.25" y1="602" x2="246.25" y2="605.3" stroke="#000" stroke-width="1.2"/>
<line x1="241.95" y1="602" x2="250.55" y2="602" stroke="#000" stroke-width="1.3"/>
<rect x="237.5" y="604.3" width="17.5" height="53.9" fill="#6aab3f" stroke="none" stroke-width="0"/>
<line x1="182" y1="576.3" x2="182" y2="658.8" stroke="#000" stroke-width="1.3"/>
<line x1="179.5" y1="658.2" x2="258.5" y2="658.2" stroke="#000" stroke-width="1.3"/>
<line x1="179" y1="658.2" x2="182" y2="658.2" stroke="#000" stroke-width="1.2"/>
<text x="175.3" y="660.55" font-size="8.6" text-anchor="end" fill="#333" stroke="#333" textLength="4.1" lengthAdjust="spacingAndGlyphs">0</text>
<line x1="179" y1="634.23" x2="182" y2="634.23" stroke="#000" stroke-width="1.2"/>
<text x="175.3" y="636.58" font-size="8.6" text-anchor="end" fill="#333" stroke="#333" textLength="8.2" lengthAdjust="spacingAndGlyphs">50</text>
<line x1="179" y1="610.27" x2="182" y2="610.27" stroke="#000" stroke-width="1.2"/>
<text x="175.3" y="612.62" font-size="8.6" text-anchor="end" fill="#333" stroke="#333" textLength="12.3" lengthAdjust="spacingAndGlyphs">100</text>
<line x1="179" y1="586.3" x2="182" y2="586.3" stroke="#000" stroke-width="1.2"/>
<text x="175.3" y="588.65" font-size="8.6" text-anchor="end" fill="#333" stroke="#333" textLength="12.3" lengthAdjust="spacingAndGlyphs">150</text>
<line x1="194.4" y1="658.2" x2="194.4" y2="661" stroke="#000" stroke-width="1.2"/>
<line x1="220.3" y1="658.2" x2="220.3" y2="661" stroke="#000" stroke-width="1.2"/>
<line x1="246.25" y1="658.2" x2="246.25" y2="661" stroke="#000" stroke-width="1.2"/>
<path d="M194.3 586.6 V584.3 H246.3 V586.6" stroke="#000" stroke-width="1.1" fill="none"/>
<path d="M194.3 594.8 V592.5 H246.3 V596.4" stroke="#000" stroke-width="1.1" fill="none"/>
<line x1="219.1" y1="593" x2="219.1" y2="602.6" stroke="#555" stroke-width="1.2"/>
<line x1="221.5" y1="593" x2="221.5" y2="602.6" stroke="#555" stroke-width="1.2"/>
<text x="220" y="585.3" font-size="8.5" text-anchor="middle" fill="#222" stroke="#222">*</text>
<text x="207.5" y="591.5" font-size="8.5" text-anchor="middle" fill="#222" stroke="#222">**</text>
<text x="233.8" y="591.5" font-size="8.5" text-anchor="middle" fill="#222" stroke="#222">*</text>
<text transform="translate(200.4 666.6) rotate(-45)" font-size="9.2" text-anchor="end" fill="#333" stroke="#333" textLength="12.5" lengthAdjust="spacingAndGlyphs">WT</text>
<text transform="translate(226.3 666.6) rotate(-45)" font-size="9.2" text-anchor="end" fill="#333" stroke="#333" textLength="16.5" lengthAdjust="spacingAndGlyphs">CTR</text>
<text transform="translate(252.25 666.6) rotate(-45)" font-size="9.2" text-anchor="end" fill="#333" stroke="#333" textLength="30.6" lengthAdjust="spacingAndGlyphs">CK1 inh.</text>
<text transform="translate(151.7 617.6) rotate(-90)" x="0" y="3.82" font-size="10.6" text-anchor="middle" fill="#333" stroke="#333" textLength="25.2" lengthAdjust="spacingAndGlyphs">Gram/L</text>
<line x1="318.25" y1="597.5" x2="318.25" y2="600.3" stroke="#000" stroke-width="1.2"/>
<line x1="313.95" y1="597.5" x2="322.55" y2="597.5" stroke="#000" stroke-width="1.3"/>
<rect x="309.5" y="599.3" width="17.5" height="58.9" fill="#ac0532" stroke="none" stroke-width="0"/>
<line x1="344.25" y1="610.8" x2="344.25" y2="618.5" stroke="#000" stroke-width="1.2"/>
<line x1="339.95" y1="610.8" x2="348.55" y2="610.8" stroke="#000" stroke-width="1.3"/>
<rect x="335.5" y="617.5" width="17.5" height="40.7" fill="#2f4c86" stroke="none" stroke-width="0"/>
<line x1="370.05" y1="602" x2="370.05" y2="604.8" stroke="#000" stroke-width="1.2"/>
<line x1="365.75" y1="602" x2="374.35" y2="602" stroke="#000" stroke-width="1.3"/>
<rect x="361.3" y="603.8" width="17.5" height="54.4" fill="#6aab3f" stroke="none" stroke-width="0"/>
<line x1="305.5" y1="573.8" x2="305.5" y2="658.8" stroke="#000" stroke-width="1.3"/>
<line x1="303" y1="658.2" x2="383.5" y2="658.2" stroke="#000" stroke-width="1.3"/>
<line x1="302.5" y1="658.2" x2="305.5" y2="658.2" stroke="#000" stroke-width="1.2"/>
<text x="299" y="660.55" font-size="8.6" text-anchor="end" fill="#333" stroke="#333" textLength="4.1" lengthAdjust="spacingAndGlyphs">0</text>
<line x1="302.5" y1="631.13" x2="305.5" y2="631.13" stroke="#000" stroke-width="1.2"/>
<text x="299" y="633.48" font-size="8.6" text-anchor="end" fill="#333" stroke="#333" textLength="8.2" lengthAdjust="spacingAndGlyphs">20</text>
<line x1="302.5" y1="604.07" x2="305.5" y2="604.07" stroke="#000" stroke-width="1.2"/>
<text x="299" y="606.42" font-size="8.6" text-anchor="end" fill="#333" stroke="#333" textLength="8.2" lengthAdjust="spacingAndGlyphs">40</text>
<line x1="302.5" y1="577" x2="305.5" y2="577" stroke="#000" stroke-width="1.2"/>
<text x="299" y="579.35" font-size="8.6" text-anchor="end" fill="#333" stroke="#333" textLength="8.2" lengthAdjust="spacingAndGlyphs">60</text>
<line x1="318.25" y1="658.2" x2="318.25" y2="661" stroke="#000" stroke-width="1.2"/>
<line x1="344.25" y1="658.2" x2="344.25" y2="661" stroke="#000" stroke-width="1.2"/>
<line x1="370.05" y1="658.2" x2="370.05" y2="661" stroke="#000" stroke-width="1.2"/>
<path d="M318 593.2 V589.5 H370 V595.2" stroke="#000" stroke-width="1.1" fill="none"/>
<line x1="342.5" y1="590" x2="342.5" y2="605" stroke="#555" stroke-width="1.2"/>
<line x1="344.9" y1="590" x2="344.9" y2="605" stroke="#555" stroke-width="1.2"/>
<text x="330.5" y="590.2" font-size="8.5" text-anchor="middle" fill="#222" stroke="#222">*</text>
<text x="356.8" y="590.2" font-size="8.5" text-anchor="middle" fill="#222" stroke="#222">*</text>
<text transform="translate(324.25 666.6) rotate(-45)" font-size="9.2" text-anchor="end" fill="#333" stroke="#333" textLength="12.5" lengthAdjust="spacingAndGlyphs">WT</text>
<text transform="translate(350.25 666.6) rotate(-45)" font-size="9.2" text-anchor="end" fill="#333" stroke="#333" textLength="16.5" lengthAdjust="spacingAndGlyphs">CTR</text>
<text transform="translate(376.05 666.6) rotate(-45)" font-size="9.2" text-anchor="end" fill="#333" stroke="#333" textLength="30.6" lengthAdjust="spacingAndGlyphs">CK1 inh.</text>
<text transform="translate(280 617.6) rotate(-90)" x="0" y="3.42" font-size="9.5" text-anchor="middle" fill="#333" stroke="#333" textLength="7.2" lengthAdjust="spacingAndGlyphs">%</text>
<line x1="444.55" y1="597" x2="444.55" y2="601" stroke="#000" stroke-width="1.2"/>
<line x1="440.25" y1="597" x2="448.85" y2="597" stroke="#000" stroke-width="1.3"/>
<rect x="435.8" y="600" width="17.5" height="58.2" fill="#ac0532" stroke="none" stroke-width="0"/>
<line x1="470.65" y1="611.3" x2="470.65" y2="625.5" stroke="#000" stroke-width="1.2"/>
<line x1="466.35" y1="611.3" x2="474.95" y2="611.3" stroke="#000" stroke-width="1.3"/>
<rect x="462" y="624.5" width="17.3" height="33.7" fill="#2f4c86" stroke="none" stroke-width="0"/>
<line x1="496.25" y1="620" x2="496.25" y2="623.3" stroke="#000" stroke-width="1.2"/>
<line x1="491.95" y1="620" x2="500.55" y2="620" stroke="#000" stroke-width="1.3"/>
<rect x="487.5" y="622.3" width="17.5" height="35.9" fill="#6aab3f" stroke="none" stroke-width="0"/>
<line x1="431.3" y1="573.8" x2="431.3" y2="658.8" stroke="#000" stroke-width="1.3"/>
<line x1="428.8" y1="658.2" x2="509.5" y2="658.2" stroke="#000" stroke-width="1.3"/>
<line x1="428.3" y1="658.2" x2="431.3" y2="658.2" stroke="#000" stroke-width="1.2"/>
<text x="424.5" y="660.55" font-size="8.6" text-anchor="end" fill="#333" stroke="#333" textLength="10.3" lengthAdjust="spacingAndGlyphs">0.0</text>
<line x1="428.3" y1="637.85" x2="431.3" y2="637.85" stroke="#000" stroke-width="1.2"/>
<text x="424.5" y="640.2" font-size="8.6" text-anchor="end" fill="#333" stroke="#333" textLength="10.3" lengthAdjust="spacingAndGlyphs">0.2</text>
<line x1="428.3" y1="617.5" x2="431.3" y2="617.5" stroke="#000" stroke-width="1.2"/>
<text x="424.5" y="619.85" font-size="8.6" text-anchor="end" fill="#333" stroke="#333" textLength="10.3" lengthAdjust="spacingAndGlyphs">0.4</text>
<line x1="428.3" y1="597.15" x2="431.3" y2="597.15" stroke="#000" stroke-width="1.2"/>
<text x="424.5" y="599.5" font-size="8.6" text-anchor="end" fill="#333" stroke="#333" textLength="10.3" lengthAdjust="spacingAndGlyphs">0.6</text>
<line x1="428.3" y1="576.8" x2="431.3" y2="576.8" stroke="#000" stroke-width="1.2"/>
<text x="424.5" y="579.15" font-size="8.6" text-anchor="end" fill="#333" stroke="#333" textLength="10.3" lengthAdjust="spacingAndGlyphs">0.8</text>
<line x1="444.55" y1="658.2" x2="444.55" y2="661" stroke="#000" stroke-width="1.2"/>
<line x1="470.65" y1="658.2" x2="470.65" y2="661" stroke="#000" stroke-width="1.2"/>
<line x1="496.25" y1="658.2" x2="496.25" y2="661" stroke="#000" stroke-width="1.2"/>
<text transform="translate(450.55 666.6) rotate(-45)" font-size="9.2" text-anchor="end" fill="#333" stroke="#333" textLength="12.5" lengthAdjust="spacingAndGlyphs">WT</text>
<text transform="translate(476.65 666.6) rotate(-45)" font-size="9.2" text-anchor="end" fill="#333" stroke="#333" textLength="16.5" lengthAdjust="spacingAndGlyphs">CTR</text>
<text transform="translate(502.25 666.6) rotate(-45)" font-size="9.2" text-anchor="end" fill="#333" stroke="#333" textLength="30.6" lengthAdjust="spacingAndGlyphs">CK1 inh.</text>
<text transform="translate(402.6 616.3) rotate(-90)" x="0" y="3.42" font-size="9.5" text-anchor="middle" fill="#333" stroke="#333" textLength="7.2" lengthAdjust="spacingAndGlyphs">%</text>
</svg>
</body></html>
